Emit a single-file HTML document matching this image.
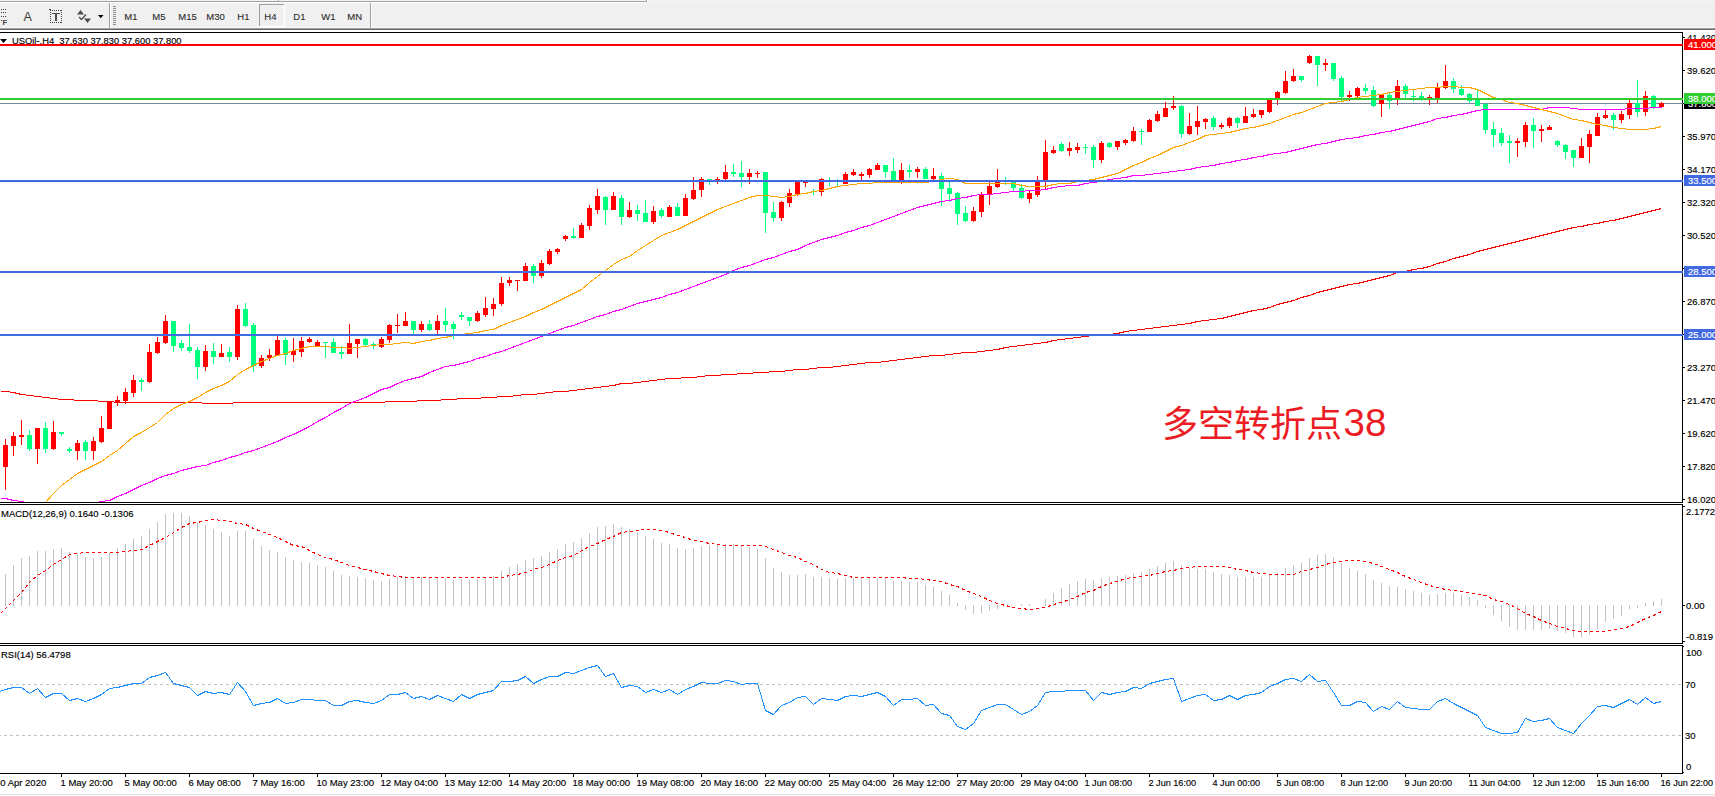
<!DOCTYPE html><html><head><meta charset="utf-8"><title>USOil-.H4</title>
<style>html,body{margin:0;padding:0;background:#fff;}body{width:1715px;height:796px;overflow:hidden;position:relative;}svg{display:block;position:absolute;left:0;top:0;}.t{font-family:"Liberation Sans",Arial,sans-serif;font-size:9.8px;fill:#000;stroke:#000;stroke-width:0.15px;}.tb{font-family:"Liberation Sans",Arial,sans-serif;font-size:9.5px;fill:#2a2a2a;stroke:#2a2a2a;stroke-width:0.1px;}.w{fill:#fff;stroke:#fff;}.cn{position:absolute;left:1162px;top:400px;font-family:"Liberation Sans","Noto Sans CJK SC",sans-serif;font-size:36px;line-height:50px;color:#ec1c24;white-space:nowrap;}.cn2{position:absolute;left:1343.6px;top:398px;font-family:"Liberation Sans","Noto Sans CJK SC",sans-serif;font-size:38.5px;line-height:50px;color:#ec1c24;white-space:nowrap;}</style></head><body>
<svg width="1715" height="796" viewBox="0 0 1715 796" shape-rendering="crispEdges">
<rect x="0" y="0" width="1715" height="28" fill="#f0f0f0"/>
<rect x="0" y="0" width="1715" height="1" fill="#f4f4f4"/>
<rect x="0" y="1" width="646" height="1" fill="#a0a0a0"/>
<rect x="0" y="2" width="646" height="1" fill="#ffffff"/>
<rect x="646" y="0" width="1" height="2" fill="#a0a0a0"/>
<rect x="647" y="0" width="1" height="3" fill="#ffffff"/>
<rect x="278" y="0" width="1" height="1" fill="#a0a0a0"/>
<rect x="279" y="0" width="1" height="1" fill="#ffffff"/>
<rect x="0" y="27" width="1715" height="1" fill="#f8f8f8"/>
<rect x="0" y="28" width="1715" height="1" fill="#a0a0a0"/>
<rect x="0" y="29" width="1715" height="1" fill="#696969"/>
<rect x="0" y="30" width="1715" height="2" fill="#ffffff"/>
<rect x="109" y="3" width="1" height="25" fill="#a0a0a0"/>
<rect x="110" y="3" width="1" height="25" fill="#ffffff"/>
<rect x="370" y="3" width="1" height="25" fill="#a0a0a0"/>
<rect x="371" y="3" width="1" height="25" fill="#ffffff"/>
<rect x="113" y="6" width="3" height="1" fill="#8c8c8c"/>
<rect x="113" y="8" width="3" height="1" fill="#8c8c8c"/>
<rect x="113" y="10" width="3" height="1" fill="#8c8c8c"/>
<rect x="113" y="12" width="3" height="1" fill="#8c8c8c"/>
<rect x="113" y="14" width="3" height="1" fill="#8c8c8c"/>
<rect x="113" y="16" width="3" height="1" fill="#8c8c8c"/>
<rect x="113" y="18" width="3" height="1" fill="#8c8c8c"/>
<rect x="113" y="20" width="3" height="1" fill="#8c8c8c"/>
<rect x="113" y="22" width="3" height="1" fill="#8c8c8c"/>
<rect x="113" y="24" width="3" height="1" fill="#8c8c8c"/>
<rect x="1" y="9" width="1" height="1" fill="#404040"/>
<rect x="3" y="9" width="1" height="1" fill="#404040"/>
<rect x="5" y="9" width="1" height="1" fill="#404040"/>
<rect x="1" y="12" width="1" height="1" fill="#404040"/>
<rect x="3" y="12" width="1" height="1" fill="#404040"/>
<rect x="5" y="12" width="1" height="1" fill="#404040"/>
<rect x="1" y="16" width="1" height="1" fill="#404040"/>
<rect x="3" y="16" width="1" height="1" fill="#404040"/>
<rect x="5" y="16" width="1" height="1" fill="#404040"/>
<rect x="1" y="20" width="1" height="1" fill="#404040"/>
<text x="2.5" y="25" font-family="Liberation Sans, Arial, sans-serif" font-size="7.5px" font-weight="bold" fill="#404040">F</text>
<text x="23.5" y="21" font-family="Liberation Sans, Arial, sans-serif" font-size="12.5px" fill="#404040">A</text>
<rect x="50" y="10" width="1" height="1" fill="#404040"/>
<rect x="50" y="22" width="1" height="1" fill="#404040"/>
<rect x="52" y="10" width="1" height="1" fill="#404040"/>
<rect x="52" y="22" width="1" height="1" fill="#404040"/>
<rect x="54" y="10" width="1" height="1" fill="#404040"/>
<rect x="54" y="22" width="1" height="1" fill="#404040"/>
<rect x="56" y="10" width="1" height="1" fill="#404040"/>
<rect x="56" y="22" width="1" height="1" fill="#404040"/>
<rect x="58" y="10" width="1" height="1" fill="#404040"/>
<rect x="58" y="22" width="1" height="1" fill="#404040"/>
<rect x="60" y="10" width="1" height="1" fill="#404040"/>
<rect x="60" y="22" width="1" height="1" fill="#404040"/>
<rect x="50" y="12" width="1" height="1" fill="#404040"/>
<rect x="61" y="12" width="1" height="1" fill="#404040"/>
<rect x="50" y="14" width="1" height="1" fill="#404040"/>
<rect x="61" y="14" width="1" height="1" fill="#404040"/>
<rect x="50" y="16" width="1" height="1" fill="#404040"/>
<rect x="61" y="16" width="1" height="1" fill="#404040"/>
<rect x="50" y="18" width="1" height="1" fill="#404040"/>
<rect x="61" y="18" width="1" height="1" fill="#404040"/>
<rect x="50" y="20" width="1" height="1" fill="#404040"/>
<rect x="61" y="20" width="1" height="1" fill="#404040"/>
<rect x="61" y="10" width="1" height="1" fill="#404040"/>
<rect x="61" y="22" width="1" height="1" fill="#404040"/>
<rect x="49" y="9" width="2" height="1" fill="#404040"/>
<rect x="52" y="13" width="8" height="1" fill="#505050"/>
<rect x="55" y="14" width="2" height="7" fill="#505050"/>
<g shape-rendering="auto">
<polygon points="77,14.5 80.5,10 84,14.5" fill="#4a4a4a"/>
<polygon points="84,18.5 91,18.5 87.5,23" fill="#4a4a4a"/>
<polyline points="79,17 81.5,19.5 86,14.5" fill="none" stroke="#4a4a4a" stroke-width="1.3"/>
<polygon points="98,15 103.5,15 100.75,18.2" fill="#000"/>
</g>
<rect x="259" y="4" width="25" height="22" fill="#f4f4f4"/>
<pattern id="dith" width="2" height="2" patternUnits="userSpaceOnUse"><rect width="2" height="2" fill="#f6f6f6"/><rect width="1" height="1" fill="#e8e8e8"/><rect x="1" y="1" width="1" height="1" fill="#e8e8e8"/></pattern>
<rect x="260" y="5" width="23" height="20" fill="url(#dith)"/>
<rect x="259" y="4" width="25" height="1" fill="#a0a0a0"/>
<rect x="259" y="4" width="1" height="22" fill="#a0a0a0"/>
<rect x="259" y="26" width="25" height="1" fill="#ffffff"/>
<rect x="284" y="4" width="1" height="23" fill="#ffffff"/>
<text class="tb" transform="translate(124.3 20) scale(1 1)">M1</text>
<text class="tb" transform="translate(152.3 20) scale(1 1)">M5</text>
<text class="tb" transform="translate(178.3 20) scale(1 1)">M15</text>
<text class="tb" transform="translate(206.3 20) scale(1 1)">M30</text>
<text class="tb" transform="translate(237.3 20) scale(1 1)">H1</text>
<text class="tb" transform="translate(264.3 20) scale(1 1)">H4</text>
<text class="tb" transform="translate(293.3 20) scale(1 1)">D1</text>
<text class="tb" transform="translate(321.3 20) scale(1 1)">W1</text>
<text class="tb" transform="translate(347.3 20) scale(1 1)">MN</text>
<rect x="0" y="32" width="1715" height="764" fill="#ffffff"/>
<svg x="0" y="33" width="1682" height="469" viewBox="0 33 1682 469" overflow="hidden">
<rect x="0" y="103" width="1682" height="1" fill="#778899"/>
<rect x="5" y="439" width="1" height="51" fill="#ff0000"/>
<rect x="3" y="445" width="5" height="22" fill="#ff0000"/>
<rect x="13" y="432" width="1" height="24" fill="#ff0000"/>
<rect x="11" y="436" width="5" height="10" fill="#ff0000"/>
<rect x="21" y="420" width="1" height="25" fill="#ff0000"/>
<rect x="19" y="435" width="5" height="2" fill="#ff0000"/>
<rect x="29" y="430" width="1" height="21" fill="#00ff7f"/>
<rect x="27" y="435" width="5" height="14" fill="#00ff7f"/>
<rect x="37" y="428" width="1" height="36" fill="#ff0000"/>
<rect x="35" y="428" width="5" height="21" fill="#ff0000"/>
<rect x="45" y="422" width="1" height="31" fill="#00ff7f"/>
<rect x="43" y="428" width="5" height="21" fill="#00ff7f"/>
<rect x="53" y="421" width="1" height="29" fill="#ff0000"/>
<rect x="51" y="432" width="5" height="17" fill="#ff0000"/>
<rect x="61" y="432" width="1" height="4" fill="#00ff7f"/>
<rect x="59" y="432" width="5" height="2" fill="#00ff7f"/>
<rect x="69" y="447" width="1" height="6" fill="#00ff7f"/>
<rect x="67" y="449" width="5" height="2" fill="#00ff7f"/>
<rect x="77" y="440" width="1" height="20" fill="#ff0000"/>
<rect x="75" y="443" width="5" height="8" fill="#ff0000"/>
<rect x="85" y="440" width="1" height="20" fill="#00ff7f"/>
<rect x="83" y="442" width="5" height="9" fill="#00ff7f"/>
<rect x="93" y="437" width="1" height="23" fill="#ff0000"/>
<rect x="91" y="441" width="5" height="10" fill="#ff0000"/>
<rect x="101" y="416" width="1" height="27" fill="#ff0000"/>
<rect x="99" y="428" width="5" height="14" fill="#ff0000"/>
<rect x="109" y="402" width="1" height="27" fill="#ff0000"/>
<rect x="107" y="402" width="5" height="27" fill="#ff0000"/>
<rect x="117" y="396" width="1" height="10" fill="#ff0000"/>
<rect x="115" y="400" width="5" height="2" fill="#ff0000"/>
<rect x="125" y="388" width="1" height="16" fill="#ff0000"/>
<rect x="123" y="392" width="5" height="9" fill="#ff0000"/>
<rect x="133" y="375" width="1" height="22" fill="#ff0000"/>
<rect x="131" y="380" width="5" height="13" fill="#ff0000"/>
<rect x="141" y="378" width="1" height="13" fill="#00ff7f"/>
<rect x="139" y="380" width="5" height="2" fill="#00ff7f"/>
<rect x="149" y="344" width="1" height="39" fill="#ff0000"/>
<rect x="147" y="352" width="5" height="30" fill="#ff0000"/>
<rect x="157" y="337" width="1" height="17" fill="#ff0000"/>
<rect x="155" y="342" width="5" height="11" fill="#ff0000"/>
<rect x="165" y="315" width="1" height="29" fill="#ff0000"/>
<rect x="163" y="321" width="5" height="22" fill="#ff0000"/>
<rect x="173" y="321" width="1" height="31" fill="#00ff7f"/>
<rect x="171" y="321" width="5" height="25" fill="#00ff7f"/>
<rect x="181" y="340" width="1" height="11" fill="#00ff7f"/>
<rect x="179" y="343" width="5" height="5" fill="#00ff7f"/>
<rect x="189" y="324" width="1" height="29" fill="#00ff7f"/>
<rect x="187" y="347" width="5" height="4" fill="#00ff7f"/>
<rect x="197" y="347" width="1" height="32" fill="#00ff7f"/>
<rect x="195" y="350" width="5" height="17" fill="#00ff7f"/>
<rect x="205" y="345" width="1" height="26" fill="#ff0000"/>
<rect x="203" y="351" width="5" height="16" fill="#ff0000"/>
<rect x="213" y="343" width="1" height="21" fill="#00ff7f"/>
<rect x="211" y="351" width="5" height="6" fill="#00ff7f"/>
<rect x="221" y="344" width="1" height="13" fill="#ff0000"/>
<rect x="219" y="353" width="5" height="4" fill="#ff0000"/>
<rect x="229" y="347" width="1" height="15" fill="#00ff7f"/>
<rect x="227" y="352" width="5" height="5" fill="#00ff7f"/>
<rect x="237" y="305" width="1" height="55" fill="#ff0000"/>
<rect x="235" y="309" width="5" height="48" fill="#ff0000"/>
<rect x="245" y="303" width="1" height="24" fill="#00ff7f"/>
<rect x="243" y="309" width="5" height="17" fill="#00ff7f"/>
<rect x="253" y="323" width="1" height="49" fill="#00ff7f"/>
<rect x="251" y="325" width="5" height="41" fill="#00ff7f"/>
<rect x="261" y="355" width="1" height="13" fill="#ff0000"/>
<rect x="259" y="358" width="5" height="8" fill="#ff0000"/>
<rect x="269" y="349" width="1" height="12" fill="#ff0000"/>
<rect x="267" y="355" width="5" height="3" fill="#ff0000"/>
<rect x="277" y="336" width="1" height="20" fill="#ff0000"/>
<rect x="275" y="340" width="5" height="16" fill="#ff0000"/>
<rect x="285" y="338" width="1" height="27" fill="#00ff7f"/>
<rect x="283" y="340" width="5" height="15" fill="#00ff7f"/>
<rect x="293" y="338" width="1" height="24" fill="#ff0000"/>
<rect x="291" y="351" width="5" height="4" fill="#ff0000"/>
<rect x="301" y="337" width="1" height="20" fill="#ff0000"/>
<rect x="299" y="341" width="5" height="11" fill="#ff0000"/>
<rect x="309" y="337" width="1" height="6" fill="#ff0000"/>
<rect x="307" y="339" width="5" height="3" fill="#ff0000"/>
<rect x="317" y="340" width="1" height="6" fill="#ff0000"/>
<rect x="315" y="342" width="5" height="4" fill="#ff0000"/>
<rect x="325" y="342" width="1" height="16" fill="#00ff7f"/>
<rect x="323" y="342" width="5" height="1" fill="#00ff7f"/>
<rect x="333" y="338" width="1" height="15" fill="#00ff7f"/>
<rect x="331" y="342" width="5" height="11" fill="#00ff7f"/>
<rect x="341" y="346" width="1" height="13" fill="#00ff7f"/>
<rect x="339" y="352" width="5" height="2" fill="#00ff7f"/>
<rect x="349" y="324" width="1" height="30" fill="#ff0000"/>
<rect x="347" y="343" width="5" height="11" fill="#ff0000"/>
<rect x="357" y="339" width="1" height="19" fill="#ff0000"/>
<rect x="355" y="339" width="5" height="5" fill="#ff0000"/>
<rect x="365" y="338" width="1" height="8" fill="#00ff7f"/>
<rect x="363" y="339" width="5" height="6" fill="#00ff7f"/>
<rect x="373" y="342" width="1" height="7" fill="#00ff7f"/>
<rect x="371" y="344" width="5" height="2" fill="#00ff7f"/>
<rect x="381" y="337" width="1" height="11" fill="#ff0000"/>
<rect x="379" y="339" width="5" height="8" fill="#ff0000"/>
<rect x="389" y="324" width="1" height="19" fill="#ff0000"/>
<rect x="387" y="325" width="5" height="15" fill="#ff0000"/>
<rect x="397" y="314" width="1" height="19" fill="#ff0000"/>
<rect x="395" y="325" width="5" height="1" fill="#ff0000"/>
<rect x="405" y="312" width="1" height="14" fill="#ff0000"/>
<rect x="403" y="321" width="5" height="5" fill="#ff0000"/>
<rect x="413" y="321" width="1" height="13" fill="#00ff7f"/>
<rect x="411" y="321" width="5" height="9" fill="#00ff7f"/>
<rect x="421" y="321" width="1" height="11" fill="#ff0000"/>
<rect x="419" y="324" width="5" height="6" fill="#ff0000"/>
<rect x="429" y="320" width="1" height="11" fill="#00ff7f"/>
<rect x="427" y="324" width="5" height="6" fill="#00ff7f"/>
<rect x="437" y="315" width="1" height="19" fill="#ff0000"/>
<rect x="435" y="321" width="5" height="9" fill="#ff0000"/>
<rect x="445" y="308" width="1" height="24" fill="#00ff7f"/>
<rect x="443" y="321" width="5" height="4" fill="#00ff7f"/>
<rect x="453" y="322" width="1" height="17" fill="#00ff7f"/>
<rect x="451" y="324" width="5" height="5" fill="#00ff7f"/>
<rect x="461" y="312" width="1" height="8" fill="#00ff7f"/>
<rect x="459" y="315" width="5" height="2" fill="#00ff7f"/>
<rect x="469" y="317" width="1" height="9" fill="#00ff7f"/>
<rect x="467" y="317" width="5" height="4" fill="#00ff7f"/>
<rect x="477" y="311" width="1" height="11" fill="#ff0000"/>
<rect x="475" y="313" width="5" height="8" fill="#ff0000"/>
<rect x="485" y="297" width="1" height="20" fill="#ff0000"/>
<rect x="483" y="308" width="5" height="7" fill="#ff0000"/>
<rect x="493" y="298" width="1" height="18" fill="#ff0000"/>
<rect x="491" y="304" width="5" height="5" fill="#ff0000"/>
<rect x="501" y="277" width="1" height="29" fill="#ff0000"/>
<rect x="499" y="283" width="5" height="21" fill="#ff0000"/>
<rect x="509" y="277" width="1" height="9" fill="#ff0000"/>
<rect x="507" y="280" width="5" height="3" fill="#ff0000"/>
<rect x="517" y="280" width="1" height="11" fill="#ff0000"/>
<rect x="515" y="280" width="5" height="1" fill="#ff0000"/>
<rect x="525" y="263" width="1" height="18" fill="#ff0000"/>
<rect x="523" y="266" width="5" height="15" fill="#ff0000"/>
<rect x="533" y="264" width="1" height="19" fill="#00ff7f"/>
<rect x="531" y="266" width="5" height="10" fill="#00ff7f"/>
<rect x="541" y="260" width="1" height="18" fill="#ff0000"/>
<rect x="539" y="263" width="5" height="13" fill="#ff0000"/>
<rect x="549" y="249" width="1" height="16" fill="#ff0000"/>
<rect x="547" y="251" width="5" height="13" fill="#ff0000"/>
<rect x="557" y="248" width="1" height="6" fill="#ff0000"/>
<rect x="555" y="249" width="5" height="3" fill="#ff0000"/>
<rect x="565" y="235" width="1" height="6" fill="#ff0000"/>
<rect x="563" y="236" width="5" height="3" fill="#ff0000"/>
<rect x="573" y="228" width="1" height="11" fill="#00ff7f"/>
<rect x="571" y="236" width="5" height="2" fill="#00ff7f"/>
<rect x="581" y="223" width="1" height="15" fill="#ff0000"/>
<rect x="579" y="225" width="5" height="13" fill="#ff0000"/>
<rect x="589" y="205" width="1" height="25" fill="#ff0000"/>
<rect x="587" y="208" width="5" height="18" fill="#ff0000"/>
<rect x="597" y="189" width="1" height="25" fill="#ff0000"/>
<rect x="595" y="196" width="5" height="14" fill="#ff0000"/>
<rect x="605" y="196" width="1" height="29" fill="#00ff7f"/>
<rect x="603" y="197" width="5" height="13" fill="#00ff7f"/>
<rect x="613" y="192" width="1" height="18" fill="#ff0000"/>
<rect x="611" y="196" width="5" height="14" fill="#ff0000"/>
<rect x="621" y="195" width="1" height="30" fill="#00ff7f"/>
<rect x="619" y="198" width="5" height="19" fill="#00ff7f"/>
<rect x="629" y="202" width="1" height="16" fill="#ff0000"/>
<rect x="627" y="210" width="5" height="7" fill="#ff0000"/>
<rect x="637" y="205" width="1" height="16" fill="#00ff7f"/>
<rect x="635" y="210" width="5" height="4" fill="#00ff7f"/>
<rect x="645" y="200" width="1" height="22" fill="#00ff7f"/>
<rect x="643" y="213" width="5" height="9" fill="#00ff7f"/>
<rect x="653" y="206" width="1" height="18" fill="#ff0000"/>
<rect x="651" y="211" width="5" height="11" fill="#ff0000"/>
<rect x="661" y="208" width="1" height="10" fill="#00ff7f"/>
<rect x="659" y="210" width="5" height="6" fill="#00ff7f"/>
<rect x="669" y="205" width="1" height="12" fill="#ff0000"/>
<rect x="667" y="207" width="5" height="10" fill="#ff0000"/>
<rect x="677" y="203" width="1" height="13" fill="#00ff7f"/>
<rect x="675" y="207" width="5" height="9" fill="#00ff7f"/>
<rect x="685" y="194" width="1" height="22" fill="#ff0000"/>
<rect x="683" y="198" width="5" height="18" fill="#ff0000"/>
<rect x="693" y="177" width="1" height="23" fill="#ff0000"/>
<rect x="691" y="190" width="5" height="9" fill="#ff0000"/>
<rect x="701" y="177" width="1" height="20" fill="#ff0000"/>
<rect x="699" y="179" width="5" height="11" fill="#ff0000"/>
<rect x="709" y="179" width="1" height="6" fill="#00ff7f"/>
<rect x="707" y="179" width="5" height="2" fill="#00ff7f"/>
<rect x="717" y="177" width="1" height="7" fill="#ff0000"/>
<rect x="715" y="179" width="5" height="1" fill="#ff0000"/>
<rect x="725" y="165" width="1" height="15" fill="#ff0000"/>
<rect x="723" y="172" width="5" height="7" fill="#ff0000"/>
<rect x="733" y="164" width="1" height="13" fill="#00ff7f"/>
<rect x="731" y="172" width="5" height="2" fill="#00ff7f"/>
<rect x="741" y="161" width="1" height="26" fill="#00ff7f"/>
<rect x="739" y="173" width="5" height="4" fill="#00ff7f"/>
<rect x="749" y="169" width="1" height="15" fill="#ff0000"/>
<rect x="747" y="173" width="5" height="4" fill="#ff0000"/>
<rect x="757" y="171" width="1" height="7" fill="#ff0000"/>
<rect x="755" y="173" width="5" height="1" fill="#ff0000"/>
<rect x="765" y="172" width="1" height="61" fill="#00ff7f"/>
<rect x="763" y="172" width="5" height="41" fill="#00ff7f"/>
<rect x="773" y="202" width="1" height="20" fill="#00ff7f"/>
<rect x="771" y="212" width="5" height="6" fill="#00ff7f"/>
<rect x="781" y="201" width="1" height="20" fill="#ff0000"/>
<rect x="779" y="202" width="5" height="16" fill="#ff0000"/>
<rect x="789" y="189" width="1" height="18" fill="#ff0000"/>
<rect x="787" y="193" width="5" height="10" fill="#ff0000"/>
<rect x="797" y="181" width="1" height="15" fill="#ff0000"/>
<rect x="795" y="181" width="5" height="13" fill="#ff0000"/>
<rect x="805" y="181" width="1" height="6" fill="#ff0000"/>
<rect x="803" y="182" width="5" height="1" fill="#ff0000"/>
<rect x="813" y="189" width="1" height="6" fill="#00ff7f"/>
<rect x="811" y="191" width="5" height="1" fill="#00ff7f"/>
<rect x="821" y="178" width="1" height="18" fill="#ff0000"/>
<rect x="819" y="179" width="5" height="13" fill="#ff0000"/>
<rect x="829" y="177" width="1" height="9" fill="#00ff7f"/>
<rect x="827" y="180" width="5" height="1" fill="#00ff7f"/>
<rect x="837" y="179" width="1" height="7" fill="#00ff7f"/>
<rect x="835" y="181" width="5" height="1" fill="#00ff7f"/>
<rect x="845" y="172" width="1" height="12" fill="#ff0000"/>
<rect x="843" y="174" width="5" height="10" fill="#ff0000"/>
<rect x="853" y="169" width="1" height="7" fill="#ff0000"/>
<rect x="851" y="172" width="5" height="3" fill="#ff0000"/>
<rect x="861" y="172" width="1" height="8" fill="#ff0000"/>
<rect x="859" y="174" width="5" height="2" fill="#ff0000"/>
<rect x="869" y="168" width="1" height="10" fill="#ff0000"/>
<rect x="867" y="169" width="5" height="6" fill="#ff0000"/>
<rect x="877" y="163" width="1" height="7" fill="#ff0000"/>
<rect x="875" y="165" width="5" height="5" fill="#ff0000"/>
<rect x="885" y="165" width="1" height="13" fill="#00ff7f"/>
<rect x="883" y="165" width="5" height="7" fill="#00ff7f"/>
<rect x="893" y="158" width="1" height="22" fill="#00ff7f"/>
<rect x="891" y="171" width="5" height="9" fill="#00ff7f"/>
<rect x="901" y="163" width="1" height="21" fill="#ff0000"/>
<rect x="899" y="170" width="5" height="11" fill="#ff0000"/>
<rect x="909" y="165" width="1" height="13" fill="#00ff7f"/>
<rect x="907" y="170" width="5" height="2" fill="#00ff7f"/>
<rect x="917" y="167" width="1" height="11" fill="#ff0000"/>
<rect x="915" y="169" width="5" height="3" fill="#ff0000"/>
<rect x="925" y="167" width="1" height="12" fill="#00ff7f"/>
<rect x="923" y="169" width="5" height="10" fill="#00ff7f"/>
<rect x="933" y="168" width="1" height="12" fill="#ff0000"/>
<rect x="931" y="176" width="5" height="3" fill="#ff0000"/>
<rect x="941" y="173" width="1" height="33" fill="#00ff7f"/>
<rect x="939" y="176" width="5" height="13" fill="#00ff7f"/>
<rect x="949" y="181" width="1" height="21" fill="#00ff7f"/>
<rect x="947" y="188" width="5" height="6" fill="#00ff7f"/>
<rect x="957" y="192" width="1" height="33" fill="#00ff7f"/>
<rect x="955" y="193" width="5" height="21" fill="#00ff7f"/>
<rect x="965" y="206" width="1" height="16" fill="#00ff7f"/>
<rect x="963" y="213" width="5" height="8" fill="#00ff7f"/>
<rect x="973" y="207" width="1" height="15" fill="#ff0000"/>
<rect x="971" y="211" width="5" height="10" fill="#ff0000"/>
<rect x="981" y="192" width="1" height="25" fill="#ff0000"/>
<rect x="979" y="194" width="5" height="18" fill="#ff0000"/>
<rect x="989" y="182" width="1" height="23" fill="#ff0000"/>
<rect x="987" y="186" width="5" height="8" fill="#ff0000"/>
<rect x="997" y="169" width="1" height="19" fill="#ff0000"/>
<rect x="995" y="182" width="5" height="5" fill="#ff0000"/>
<rect x="1005" y="177" width="1" height="8" fill="#00ff7f"/>
<rect x="1003" y="181" width="5" height="1" fill="#00ff7f"/>
<rect x="1013" y="181" width="1" height="10" fill="#00ff7f"/>
<rect x="1011" y="181" width="5" height="7" fill="#00ff7f"/>
<rect x="1021" y="184" width="1" height="15" fill="#00ff7f"/>
<rect x="1019" y="188" width="5" height="10" fill="#00ff7f"/>
<rect x="1029" y="191" width="1" height="12" fill="#ff0000"/>
<rect x="1027" y="193" width="5" height="6" fill="#ff0000"/>
<rect x="1037" y="176" width="1" height="21" fill="#ff0000"/>
<rect x="1035" y="182" width="5" height="13" fill="#ff0000"/>
<rect x="1045" y="140" width="1" height="49" fill="#ff0000"/>
<rect x="1043" y="152" width="5" height="30" fill="#ff0000"/>
<rect x="1053" y="146" width="1" height="8" fill="#ff0000"/>
<rect x="1051" y="150" width="5" height="3" fill="#ff0000"/>
<rect x="1061" y="142" width="1" height="10" fill="#00ff7f"/>
<rect x="1059" y="144" width="5" height="7" fill="#00ff7f"/>
<rect x="1069" y="142" width="1" height="14" fill="#ff0000"/>
<rect x="1067" y="148" width="5" height="3" fill="#ff0000"/>
<rect x="1077" y="143" width="1" height="10" fill="#ff0000"/>
<rect x="1075" y="147" width="5" height="3" fill="#ff0000"/>
<rect x="1085" y="144" width="1" height="10" fill="#00ff7f"/>
<rect x="1083" y="147" width="5" height="1" fill="#00ff7f"/>
<rect x="1093" y="145" width="1" height="23" fill="#00ff7f"/>
<rect x="1091" y="147" width="5" height="13" fill="#00ff7f"/>
<rect x="1101" y="141" width="1" height="22" fill="#ff0000"/>
<rect x="1099" y="143" width="5" height="17" fill="#ff0000"/>
<rect x="1109" y="142" width="1" height="6" fill="#00ff7f"/>
<rect x="1107" y="143" width="5" height="4" fill="#00ff7f"/>
<rect x="1117" y="141" width="1" height="9" fill="#ff0000"/>
<rect x="1115" y="141" width="5" height="6" fill="#ff0000"/>
<rect x="1125" y="139" width="1" height="6" fill="#ff0000"/>
<rect x="1123" y="140" width="5" height="3" fill="#ff0000"/>
<rect x="1133" y="127" width="1" height="15" fill="#ff0000"/>
<rect x="1131" y="131" width="5" height="10" fill="#ff0000"/>
<rect x="1141" y="129" width="1" height="16" fill="#00ff7f"/>
<rect x="1139" y="131" width="5" height="1" fill="#00ff7f"/>
<rect x="1149" y="119" width="1" height="13" fill="#ff0000"/>
<rect x="1147" y="120" width="5" height="12" fill="#ff0000"/>
<rect x="1157" y="111" width="1" height="11" fill="#ff0000"/>
<rect x="1155" y="114" width="5" height="7" fill="#ff0000"/>
<rect x="1165" y="102" width="1" height="15" fill="#ff0000"/>
<rect x="1163" y="108" width="5" height="9" fill="#ff0000"/>
<rect x="1173" y="96" width="1" height="14" fill="#ff0000"/>
<rect x="1171" y="106" width="5" height="2" fill="#ff0000"/>
<rect x="1181" y="105" width="1" height="33" fill="#00ff7f"/>
<rect x="1179" y="106" width="5" height="28" fill="#00ff7f"/>
<rect x="1189" y="113" width="1" height="22" fill="#ff0000"/>
<rect x="1187" y="126" width="5" height="8" fill="#ff0000"/>
<rect x="1197" y="106" width="1" height="29" fill="#ff0000"/>
<rect x="1195" y="121" width="5" height="6" fill="#ff0000"/>
<rect x="1205" y="118" width="1" height="11" fill="#ff0000"/>
<rect x="1203" y="119" width="5" height="3" fill="#ff0000"/>
<rect x="1213" y="116" width="1" height="14" fill="#00ff7f"/>
<rect x="1211" y="118" width="5" height="9" fill="#00ff7f"/>
<rect x="1221" y="123" width="1" height="6" fill="#ff0000"/>
<rect x="1219" y="125" width="5" height="2" fill="#ff0000"/>
<rect x="1229" y="117" width="1" height="11" fill="#ff0000"/>
<rect x="1227" y="118" width="5" height="8" fill="#ff0000"/>
<rect x="1237" y="117" width="1" height="11" fill="#00ff7f"/>
<rect x="1235" y="118" width="5" height="5" fill="#00ff7f"/>
<rect x="1245" y="107" width="1" height="16" fill="#ff0000"/>
<rect x="1243" y="116" width="5" height="7" fill="#ff0000"/>
<rect x="1253" y="109" width="1" height="9" fill="#ff0000"/>
<rect x="1251" y="114" width="5" height="3" fill="#ff0000"/>
<rect x="1261" y="110" width="1" height="8" fill="#ff0000"/>
<rect x="1259" y="110" width="5" height="5" fill="#ff0000"/>
<rect x="1269" y="100" width="1" height="13" fill="#ff0000"/>
<rect x="1267" y="100" width="5" height="12" fill="#ff0000"/>
<rect x="1277" y="91" width="1" height="14" fill="#ff0000"/>
<rect x="1275" y="92" width="5" height="8" fill="#ff0000"/>
<rect x="1285" y="71" width="1" height="23" fill="#ff0000"/>
<rect x="1283" y="81" width="5" height="12" fill="#ff0000"/>
<rect x="1293" y="69" width="1" height="13" fill="#ff0000"/>
<rect x="1291" y="76" width="5" height="5" fill="#ff0000"/>
<rect x="1301" y="76" width="1" height="6" fill="#00ff7f"/>
<rect x="1299" y="76" width="5" height="4" fill="#00ff7f"/>
<rect x="1309" y="55" width="1" height="9" fill="#ff0000"/>
<rect x="1307" y="56" width="5" height="7" fill="#ff0000"/>
<rect x="1317" y="56" width="1" height="30" fill="#00ff7f"/>
<rect x="1315" y="56" width="5" height="9" fill="#00ff7f"/>
<rect x="1325" y="59" width="1" height="12" fill="#ff0000"/>
<rect x="1323" y="63" width="5" height="2" fill="#ff0000"/>
<rect x="1333" y="63" width="1" height="18" fill="#00ff7f"/>
<rect x="1331" y="63" width="5" height="16" fill="#00ff7f"/>
<rect x="1341" y="76" width="1" height="25" fill="#00ff7f"/>
<rect x="1339" y="78" width="5" height="19" fill="#00ff7f"/>
<rect x="1349" y="91" width="1" height="10" fill="#ff0000"/>
<rect x="1347" y="95" width="5" height="2" fill="#ff0000"/>
<rect x="1357" y="87" width="1" height="10" fill="#ff0000"/>
<rect x="1355" y="88" width="5" height="8" fill="#ff0000"/>
<rect x="1365" y="84" width="1" height="10" fill="#00ff7f"/>
<rect x="1363" y="88" width="5" height="3" fill="#00ff7f"/>
<rect x="1373" y="86" width="1" height="21" fill="#00ff7f"/>
<rect x="1371" y="90" width="5" height="16" fill="#00ff7f"/>
<rect x="1381" y="94" width="1" height="23" fill="#ff0000"/>
<rect x="1379" y="95" width="5" height="9" fill="#ff0000"/>
<rect x="1389" y="93" width="1" height="16" fill="#00ff7f"/>
<rect x="1387" y="95" width="5" height="6" fill="#00ff7f"/>
<rect x="1397" y="80" width="1" height="25" fill="#ff0000"/>
<rect x="1395" y="86" width="5" height="12" fill="#ff0000"/>
<rect x="1405" y="84" width="1" height="14" fill="#00ff7f"/>
<rect x="1403" y="86" width="5" height="8" fill="#00ff7f"/>
<rect x="1413" y="90" width="1" height="11" fill="#00ff7f"/>
<rect x="1411" y="96" width="5" height="1" fill="#00ff7f"/>
<rect x="1421" y="92" width="1" height="9" fill="#00ff7f"/>
<rect x="1419" y="96" width="5" height="2" fill="#00ff7f"/>
<rect x="1429" y="95" width="1" height="10" fill="#ff0000"/>
<rect x="1427" y="97" width="5" height="2" fill="#ff0000"/>
<rect x="1437" y="83" width="1" height="20" fill="#ff0000"/>
<rect x="1435" y="88" width="5" height="10" fill="#ff0000"/>
<rect x="1445" y="65" width="1" height="24" fill="#ff0000"/>
<rect x="1443" y="81" width="5" height="7" fill="#ff0000"/>
<rect x="1453" y="78" width="1" height="15" fill="#00ff7f"/>
<rect x="1451" y="81" width="5" height="8" fill="#00ff7f"/>
<rect x="1461" y="85" width="1" height="11" fill="#00ff7f"/>
<rect x="1459" y="89" width="5" height="6" fill="#00ff7f"/>
<rect x="1469" y="93" width="1" height="10" fill="#00ff7f"/>
<rect x="1467" y="94" width="5" height="7" fill="#00ff7f"/>
<rect x="1477" y="89" width="1" height="17" fill="#00ff7f"/>
<rect x="1475" y="100" width="5" height="6" fill="#00ff7f"/>
<rect x="1485" y="103" width="1" height="31" fill="#00ff7f"/>
<rect x="1483" y="104" width="5" height="26" fill="#00ff7f"/>
<rect x="1493" y="122" width="1" height="25" fill="#00ff7f"/>
<rect x="1491" y="129" width="5" height="6" fill="#00ff7f"/>
<rect x="1501" y="128" width="1" height="18" fill="#00ff7f"/>
<rect x="1499" y="133" width="5" height="10" fill="#00ff7f"/>
<rect x="1509" y="135" width="1" height="28" fill="#00ff7f"/>
<rect x="1507" y="141" width="5" height="2" fill="#00ff7f"/>
<rect x="1517" y="138" width="1" height="19" fill="#ff0000"/>
<rect x="1515" y="141" width="5" height="2" fill="#ff0000"/>
<rect x="1525" y="122" width="1" height="25" fill="#ff0000"/>
<rect x="1523" y="125" width="5" height="17" fill="#ff0000"/>
<rect x="1533" y="118" width="1" height="30" fill="#00ff7f"/>
<rect x="1531" y="125" width="5" height="6" fill="#00ff7f"/>
<rect x="1541" y="125" width="1" height="17" fill="#ff0000"/>
<rect x="1539" y="129" width="5" height="2" fill="#ff0000"/>
<rect x="1549" y="125" width="1" height="5" fill="#ff0000"/>
<rect x="1547" y="127" width="5" height="3" fill="#ff0000"/>
<rect x="1557" y="140" width="1" height="7" fill="#00ff7f"/>
<rect x="1555" y="141" width="5" height="4" fill="#00ff7f"/>
<rect x="1565" y="144" width="1" height="15" fill="#00ff7f"/>
<rect x="1563" y="145" width="5" height="7" fill="#00ff7f"/>
<rect x="1573" y="150" width="1" height="17" fill="#00ff7f"/>
<rect x="1571" y="150" width="5" height="8" fill="#00ff7f"/>
<rect x="1581" y="138" width="1" height="20" fill="#ff0000"/>
<rect x="1579" y="146" width="5" height="12" fill="#ff0000"/>
<rect x="1589" y="130" width="1" height="33" fill="#ff0000"/>
<rect x="1587" y="134" width="5" height="13" fill="#ff0000"/>
<rect x="1597" y="113" width="1" height="23" fill="#ff0000"/>
<rect x="1595" y="117" width="5" height="19" fill="#ff0000"/>
<rect x="1605" y="110" width="1" height="9" fill="#ff0000"/>
<rect x="1603" y="115" width="5" height="3" fill="#ff0000"/>
<rect x="1613" y="113" width="1" height="17" fill="#00ff7f"/>
<rect x="1611" y="115" width="5" height="5" fill="#00ff7f"/>
<rect x="1621" y="111" width="1" height="12" fill="#ff0000"/>
<rect x="1619" y="114" width="5" height="6" fill="#ff0000"/>
<rect x="1629" y="100" width="1" height="19" fill="#ff0000"/>
<rect x="1627" y="103" width="5" height="12" fill="#ff0000"/>
<rect x="1637" y="80" width="1" height="37" fill="#00ff7f"/>
<rect x="1635" y="103" width="5" height="9" fill="#00ff7f"/>
<rect x="1645" y="91" width="1" height="25" fill="#ff0000"/>
<rect x="1643" y="96" width="5" height="16" fill="#ff0000"/>
<rect x="1653" y="95" width="1" height="14" fill="#00ff7f"/>
<rect x="1651" y="96" width="5" height="11" fill="#00ff7f"/>
<rect x="1661" y="102" width="1" height="5" fill="#ff0000"/>
<rect x="1659" y="103" width="5" height="4" fill="#ff0000"/>
<polyline points="0.5,391.5 5.5,391.5 13.5,392.5 21.5,394.5 29.5,395.5 37.5,396.5 45.5,397.5 53.5,398.5 61.5,399.5 69.5,399.5 77.5,400.5 85.5,400.5 93.5,400.5 101.5,401.5 109.5,401.5 117.5,402.5 125.5,402.5 133.5,402.5 141.5,402.5 149.5,402.5 157.5,402.5 165.5,402.5 173.5,402.5 181.5,402.5 189.5,402.5 197.5,402.5 205.5,403.5 213.5,403.5 221.5,403.5 229.5,403.5 237.5,402.5 245.5,402.5 253.5,402.5 261.5,402.5 269.5,402.5 277.5,402.5 285.5,402.5 293.5,402.5 301.5,402.5 309.5,402.5 317.5,402.5 325.5,402.5 333.5,402.5 341.5,402.5 349.5,402.5 357.5,402.5 365.5,402.5 373.5,402.5 381.5,402.5 389.5,401.5 397.5,401.5 405.5,401.5 413.5,401.5 421.5,400.5 429.5,400.5 437.5,400.5 445.5,399.5 453.5,399.5 461.5,398.5 469.5,398.5 477.5,398.5 485.5,397.5 493.5,397.5 501.5,396.5 509.5,396.5 517.5,395.5 525.5,394.5 533.5,394.5 541.5,393.5 549.5,392.5 557.5,391.5 565.5,391.5 573.5,390.5 581.5,389.5 589.5,388.5 597.5,387.5 605.5,386.5 613.5,385.5 621.5,383.5 629.5,383.5 637.5,382.5 645.5,381.5 653.5,380.5 661.5,379.5 669.5,378.5 677.5,378.5 685.5,377.5 693.5,377.5 701.5,376.5 709.5,375.5 717.5,375.5 725.5,374.5 733.5,374.5 741.5,373.5 749.5,373.5 757.5,372.5 765.5,372.5 773.5,371.5 781.5,371.5 789.5,370.5 797.5,369.5 805.5,369.5 813.5,368.5 821.5,367.5 829.5,367.5 837.5,366.5 845.5,365.5 853.5,364.5 861.5,363.5 869.5,362.5 877.5,362.5 885.5,361.5 893.5,360.5 901.5,359.5 909.5,358.5 917.5,357.5 925.5,356.5 933.5,355.5 941.5,355.5 949.5,354.5 957.5,353.5 965.5,352.5 973.5,352.5 981.5,351.5 989.5,350.5 997.5,349.5 1005.5,347.5 1013.5,346.5 1021.5,345.5 1029.5,344.5 1037.5,343.5 1045.5,342.5 1053.5,340.5 1061.5,339.5 1069.5,338.5 1077.5,337.5 1085.5,336.5 1093.5,335.5 1101.5,335.5 1109.5,334.5 1117.5,333.5 1125.5,331.5 1133.5,330.5 1141.5,329.5 1149.5,328.5 1157.5,327.5 1165.5,326.5 1173.5,325.5 1181.5,324.5 1189.5,323.5 1197.5,321.5 1205.5,320.5 1213.5,319.5 1221.5,318.5 1229.5,316.5 1237.5,314.5 1245.5,312.5 1253.5,310.5 1261.5,309.5 1269.5,307.5 1277.5,304.5 1285.5,302.5 1293.5,300.5 1301.5,297.5 1309.5,295.5 1317.5,292.5 1325.5,290.5 1333.5,288.5 1341.5,286.5 1349.5,284.5 1357.5,283.5 1365.5,281.5 1373.5,279.5 1381.5,277.5 1389.5,275.5 1397.5,272.5 1405.5,271.5 1413.5,269.5 1421.5,268.5 1429.5,266.5 1437.5,263.5 1445.5,261.5 1453.5,258.5 1461.5,256.5 1469.5,254.5 1477.5,251.5 1485.5,249.5 1493.5,247.5 1501.5,245.5 1509.5,243.5 1517.5,241.5 1525.5,239.5 1533.5,237.5 1541.5,235.5 1549.5,233.5 1557.5,231.5 1565.5,229.5 1573.5,227.5 1581.5,226.5 1589.5,224.5 1597.5,223.5 1605.5,221.5 1613.5,220.5 1621.5,218.5 1629.5,216.5 1637.5,214.5 1645.5,212.5 1653.5,210.5 1661.5,208.5" fill="none" stroke="#ff0000" stroke-width="1" />
<polyline points="0.5,498.5 5.5,498.5 13.5,500.5 21.5,501.5 29.5,503.5 37.5,503.5 45.5,504.5 53.5,505.5 61.5,505.5 69.5,505.5 77.5,504.5 85.5,503.5 93.5,503.5 101.5,501.5 109.5,500.5 117.5,496.5 125.5,493.5 133.5,489.5 141.5,485.5 149.5,482.5 157.5,478.5 165.5,475.5 173.5,473.5 181.5,470.5 189.5,468.5 197.5,466.5 205.5,465.5 213.5,462.5 221.5,460.5 229.5,457.5 237.5,455.5 245.5,452.5 253.5,450.5 261.5,447.5 269.5,444.5 277.5,441.5 285.5,437.5 293.5,434.5 301.5,430.5 309.5,426.5 317.5,421.5 325.5,417.5 333.5,412.5 341.5,408.5 349.5,403.5 357.5,400.5 365.5,397.5 373.5,393.5 381.5,389.5 389.5,387.5 397.5,383.5 405.5,380.5 413.5,378.5 421.5,376.5 429.5,372.5 437.5,369.5 445.5,366.5 453.5,365.5 461.5,363.5 469.5,361.5 477.5,358.5 485.5,356.5 493.5,353.5 501.5,351.5 509.5,348.5 517.5,345.5 525.5,342.5 533.5,339.5 541.5,336.5 549.5,333.5 557.5,330.5 565.5,327.5 573.5,325.5 581.5,322.5 589.5,319.5 597.5,316.5 605.5,314.5 613.5,311.5 621.5,309.5 629.5,306.5 637.5,303.5 645.5,301.5 653.5,299.5 661.5,297.5 669.5,294.5 677.5,292.5 685.5,289.5 693.5,286.5 701.5,283.5 709.5,280.5 717.5,277.5 725.5,274.5 733.5,270.5 741.5,267.5 749.5,265.5 757.5,262.5 765.5,259.5 773.5,257.5 781.5,254.5 789.5,251.5 797.5,249.5 805.5,245.5 813.5,242.5 821.5,239.5 829.5,237.5 837.5,235.5 845.5,232.5 853.5,230.5 861.5,227.5 869.5,225.5 877.5,222.5 885.5,219.5 893.5,216.5 901.5,213.5 909.5,210.5 917.5,207.5 925.5,205.5 933.5,203.5 941.5,201.5 949.5,200.5 957.5,198.5 965.5,197.5 973.5,195.5 981.5,194.5 989.5,194.5 997.5,193.5 1005.5,192.5 1013.5,191.5 1021.5,191.5 1029.5,190.5 1037.5,190.5 1045.5,189.5 1053.5,187.5 1061.5,186.5 1069.5,185.5 1077.5,185.5 1085.5,183.5 1093.5,182.5 1101.5,181.5 1109.5,179.5 1117.5,178.5 1125.5,177.5 1133.5,175.5 1141.5,175.5 1149.5,174.5 1157.5,173.5 1165.5,172.5 1173.5,171.5 1181.5,170.5 1189.5,169.5 1197.5,167.5 1205.5,166.5 1213.5,165.5 1221.5,163.5 1229.5,162.5 1237.5,160.5 1245.5,159.5 1253.5,157.5 1261.5,156.5 1269.5,154.5 1277.5,153.5 1285.5,152.5 1293.5,150.5 1301.5,148.5 1309.5,146.5 1317.5,144.5 1325.5,143.5 1333.5,141.5 1341.5,139.5 1349.5,138.5 1357.5,137.5 1365.5,135.5 1373.5,134.5 1381.5,132.5 1389.5,131.5 1397.5,129.5 1405.5,127.5 1413.5,125.5 1421.5,123.5 1429.5,121.5 1437.5,118.5 1445.5,117.5 1453.5,115.5 1461.5,114.5 1469.5,112.5 1477.5,110.5 1485.5,109.5 1493.5,109.5 1501.5,109.5 1509.5,109.5 1517.5,109.5 1525.5,109.5 1533.5,109.5 1541.5,109.5 1549.5,107.5 1557.5,107.5 1565.5,107.5 1573.5,108.5 1581.5,109.5 1589.5,109.5 1597.5,109.5 1605.5,109.5 1613.5,109.5 1621.5,109.5 1629.5,108.5 1637.5,108.5 1645.5,108.5 1653.5,107.5 1661.5,107.5" fill="none" stroke="#ff00ff" stroke-width="1" />
<polyline points="41.5,506.5 45.5,502.5 53.5,493.5 61.5,485.5 69.5,479.5 77.5,473.5 85.5,469.5 93.5,465.5 101.5,461.5 109.5,455.5 117.5,450.5 125.5,443.5 133.5,436.5 141.5,432.5 149.5,427.5 157.5,422.5 165.5,414.5 173.5,408.5 181.5,404.5 189.5,401.5 197.5,397.5 205.5,392.5 213.5,388.5 221.5,385.5 229.5,381.5 237.5,374.5 245.5,369.5 253.5,365.5 261.5,361.5 269.5,358.5 277.5,355.5 285.5,353.5 293.5,350.5 301.5,348.5 309.5,346.5 317.5,346.5 325.5,346.5 333.5,347.5 341.5,347.5 349.5,348.5 357.5,347.5 365.5,346.5 373.5,345.5 381.5,344.5 389.5,344.5 397.5,343.5 405.5,342.5 413.5,343.5 421.5,341.5 429.5,340.5 437.5,338.5 445.5,337.5 453.5,335.5 461.5,334.5 469.5,333.5 477.5,332.5 485.5,330.5 493.5,329.5 501.5,325.5 509.5,322.5 517.5,319.5 525.5,316.5 533.5,312.5 541.5,309.5 549.5,305.5 557.5,301.5 565.5,297.5 573.5,293.5 581.5,289.5 589.5,282.5 597.5,276.5 605.5,270.5 613.5,264.5 621.5,259.5 629.5,256.5 637.5,250.5 645.5,245.5 653.5,240.5 661.5,235.5 669.5,232.5 677.5,229.5 685.5,225.5 693.5,221.5 701.5,217.5 709.5,213.5 717.5,209.5 725.5,206.5 733.5,203.5 741.5,200.5 749.5,197.5 757.5,195.5 765.5,195.5 773.5,196.5 781.5,197.5 789.5,196.5 797.5,194.5 805.5,193.5 813.5,191.5 821.5,190.5 829.5,188.5 837.5,186.5 845.5,185.5 853.5,184.5 861.5,183.5 869.5,183.5 877.5,182.5 885.5,182.5 893.5,182.5 901.5,182.5 909.5,182.5 917.5,182.5 925.5,182.5 933.5,181.5 941.5,179.5 949.5,178.5 957.5,179.5 965.5,183.5 973.5,183.5 981.5,183.5 989.5,183.5 997.5,183.5 1005.5,183.5 1013.5,183.5 1021.5,185.5 1029.5,186.5 1037.5,186.5 1045.5,186.5 1053.5,184.5 1061.5,183.5 1069.5,183.5 1077.5,181.5 1085.5,180.5 1093.5,179.5 1101.5,177.5 1109.5,175.5 1117.5,173.5 1125.5,169.5 1133.5,165.5 1141.5,162.5 1149.5,158.5 1157.5,155.5 1165.5,151.5 1173.5,147.5 1181.5,145.5 1189.5,142.5 1197.5,139.5 1205.5,135.5 1213.5,134.5 1221.5,133.5 1229.5,132.5 1237.5,130.5 1245.5,128.5 1253.5,127.5 1261.5,125.5 1269.5,123.5 1277.5,120.5 1285.5,117.5 1293.5,114.5 1301.5,112.5 1309.5,109.5 1317.5,106.5 1325.5,103.5 1333.5,102.5 1341.5,101.5 1349.5,99.5 1357.5,97.5 1365.5,96.5 1373.5,95.5 1381.5,94.5 1389.5,92.5 1397.5,91.5 1405.5,90.5 1413.5,89.5 1421.5,88.5 1429.5,87.5 1437.5,87.5 1445.5,86.5 1453.5,86.5 1461.5,87.5 1469.5,87.5 1477.5,89.5 1485.5,93.5 1493.5,97.5 1501.5,99.5 1509.5,102.5 1517.5,103.5 1525.5,105.5 1533.5,107.5 1541.5,109.5 1549.5,111.5 1557.5,113.5 1565.5,116.5 1573.5,119.5 1581.5,120.5 1589.5,122.5 1597.5,124.5 1605.5,125.5 1613.5,127.5 1621.5,128.5 1629.5,129.5 1637.5,129.5 1645.5,129.5 1653.5,128.5 1661.5,126.5" fill="none" stroke="#ffa500" stroke-width="1" />
<rect x="0" y="44" width="1682" height="2" fill="#ff0000"/>
<rect x="0" y="98" width="1682" height="2" fill="#32cd32"/>
<rect x="0" y="180" width="1682" height="2" fill="#4169e1"/>
<rect x="0" y="271" width="1682" height="2" fill="#4169e1"/>
<rect x="0" y="334" width="1682" height="2" fill="#4169e1"/>
</svg>
<rect x="0" y="32" width="1683" height="1" fill="#000"/>
<rect x="1682" y="32" width="1" height="471" fill="#000"/>
<rect x="0" y="502" width="1683" height="1" fill="#000"/>
<rect x="1682" y="44" width="1" height="2" fill="#ff0000"/>
<rect x="1682" y="98" width="1" height="2" fill="#32cd32"/>
<rect x="1682" y="103" width="1" height="1" fill="#778899"/>
<rect x="1682" y="180" width="1" height="2" fill="#4169e1"/>
<rect x="1682" y="271" width="1" height="2" fill="#4169e1"/>
<rect x="1682" y="334" width="1" height="2" fill="#4169e1"/>
<rect x="1683" y="37" width="2" height="1" fill="#000"/>
<text class="t" transform="translate(1687 40.5) scale(0.97 1)">41.420</text>
<rect x="1683" y="70" width="2" height="1" fill="#000"/>
<text class="t" transform="translate(1687 73.5) scale(0.97 1)">39.620</text>
<rect x="1683" y="103" width="2" height="1" fill="#000"/>
<text class="t" transform="translate(1687 106.5) scale(0.97 1)">37.770</text>
<rect x="1683" y="136" width="2" height="1" fill="#000"/>
<text class="t" transform="translate(1687 139.5) scale(0.97 1)">35.970</text>
<rect x="1683" y="169" width="2" height="1" fill="#000"/>
<text class="t" transform="translate(1687 172.5) scale(0.97 1)">34.170</text>
<rect x="1683" y="202" width="2" height="1" fill="#000"/>
<text class="t" transform="translate(1687 205.5) scale(0.97 1)">32.320</text>
<rect x="1683" y="235" width="2" height="1" fill="#000"/>
<text class="t" transform="translate(1687 238.5) scale(0.97 1)">30.520</text>
<rect x="1683" y="268" width="2" height="1" fill="#000"/>
<text class="t" transform="translate(1687 271.5) scale(0.97 1)">28.720</text>
<rect x="1683" y="301" width="2" height="1" fill="#000"/>
<text class="t" transform="translate(1687 304.5) scale(0.97 1)">26.870</text>
<rect x="1683" y="334" width="2" height="1" fill="#000"/>
<text class="t" transform="translate(1687 337.5) scale(0.97 1)">25.070</text>
<rect x="1683" y="367" width="2" height="1" fill="#000"/>
<text class="t" transform="translate(1687 370.5) scale(0.97 1)">23.270</text>
<rect x="1683" y="400" width="2" height="1" fill="#000"/>
<text class="t" transform="translate(1687 403.5) scale(0.97 1)">21.470</text>
<rect x="1683" y="433" width="2" height="1" fill="#000"/>
<text class="t" transform="translate(1687 436.5) scale(0.97 1)">19.620</text>
<rect x="1683" y="466" width="2" height="1" fill="#000"/>
<text class="t" transform="translate(1687 469.5) scale(0.97 1)">17.820</text>
<rect x="1683" y="499" width="2" height="1" fill="#000"/>
<text class="t" transform="translate(1687 502.5) scale(0.97 1)">16.020</text>
<rect x="1684" y="39" width="31" height="11" fill="#ff0000"/>
<text class="t w" transform="translate(1688 47.5) scale(0.97 1)">41.000</text>
<rect x="1684" y="98" width="31" height="11" fill="#000000"/>
<text class="t w" transform="translate(1688 106.5) scale(0.97 1)">37.800</text>
<rect x="1684" y="93" width="31" height="11" fill="#32cd32"/>
<text class="t w" transform="translate(1688 101.5) scale(0.97 1)">38.000</text>
<rect x="1684" y="175" width="31" height="11" fill="#4169e1"/>
<text class="t w" transform="translate(1688 183.5) scale(0.97 1)">33.500</text>
<rect x="1684" y="266" width="31" height="11" fill="#4169e1"/>
<text class="t w" transform="translate(1688 274.5) scale(0.97 1)">28.500</text>
<rect x="1684" y="329" width="31" height="11" fill="#4169e1"/>
<text class="t w" transform="translate(1688 337.5) scale(0.97 1)">25.000</text>
<polygon points="0,39 7,39 3.5,43" fill="#000" shape-rendering="auto"/>
<text class="t" transform="translate(12 44) scale(0.955 1)">USOil-.H4 &#160;37.630 37.830 37.600 37.800</text>
<rect x="0" y="44" width="1682" height="2" fill="#ff0000"/>
<rect x="0" y="504" width="1683" height="1" fill="#000"/>
<rect x="1682" y="504" width="1" height="140" fill="#000"/>
<rect x="0" y="643" width="1683" height="1" fill="#000"/>
<svg x="0" y="505" width="1682" height="138" viewBox="0 505 1682 138" overflow="hidden">
<rect x="5" y="574" width="1" height="32" fill="#c0c0c0"/>
<rect x="13" y="565" width="1" height="41" fill="#c0c0c0"/>
<rect x="21" y="558" width="1" height="48" fill="#c0c0c0"/>
<rect x="29" y="556" width="1" height="50" fill="#c0c0c0"/>
<rect x="37" y="551" width="1" height="55" fill="#c0c0c0"/>
<rect x="45" y="551" width="1" height="55" fill="#c0c0c0"/>
<rect x="53" y="549" width="1" height="57" fill="#c0c0c0"/>
<rect x="61" y="548" width="1" height="58" fill="#c0c0c0"/>
<rect x="69" y="552" width="1" height="54" fill="#c0c0c0"/>
<rect x="77" y="554" width="1" height="52" fill="#c0c0c0"/>
<rect x="85" y="557" width="1" height="49" fill="#c0c0c0"/>
<rect x="93" y="558" width="1" height="48" fill="#c0c0c0"/>
<rect x="101" y="557" width="1" height="49" fill="#c0c0c0"/>
<rect x="109" y="553" width="1" height="53" fill="#c0c0c0"/>
<rect x="117" y="548" width="1" height="58" fill="#c0c0c0"/>
<rect x="125" y="544" width="1" height="62" fill="#c0c0c0"/>
<rect x="133" y="539" width="1" height="67" fill="#c0c0c0"/>
<rect x="141" y="536" width="1" height="70" fill="#c0c0c0"/>
<rect x="149" y="529" width="1" height="77" fill="#c0c0c0"/>
<rect x="157" y="522" width="1" height="84" fill="#c0c0c0"/>
<rect x="165" y="514" width="1" height="92" fill="#c0c0c0"/>
<rect x="173" y="513" width="1" height="93" fill="#c0c0c0"/>
<rect x="181" y="513" width="1" height="93" fill="#c0c0c0"/>
<rect x="189" y="516" width="1" height="90" fill="#c0c0c0"/>
<rect x="197" y="523" width="1" height="83" fill="#c0c0c0"/>
<rect x="205" y="525" width="1" height="81" fill="#c0c0c0"/>
<rect x="213" y="529" width="1" height="77" fill="#c0c0c0"/>
<rect x="221" y="532" width="1" height="74" fill="#c0c0c0"/>
<rect x="229" y="536" width="1" height="70" fill="#c0c0c0"/>
<rect x="237" y="531" width="1" height="75" fill="#c0c0c0"/>
<rect x="245" y="531" width="1" height="75" fill="#c0c0c0"/>
<rect x="253" y="539" width="1" height="67" fill="#c0c0c0"/>
<rect x="261" y="546" width="1" height="60" fill="#c0c0c0"/>
<rect x="269" y="550" width="1" height="56" fill="#c0c0c0"/>
<rect x="277" y="552" width="1" height="54" fill="#c0c0c0"/>
<rect x="285" y="557" width="1" height="49" fill="#c0c0c0"/>
<rect x="293" y="560" width="1" height="46" fill="#c0c0c0"/>
<rect x="301" y="562" width="1" height="44" fill="#c0c0c0"/>
<rect x="309" y="563" width="1" height="43" fill="#c0c0c0"/>
<rect x="317" y="565" width="1" height="41" fill="#c0c0c0"/>
<rect x="325" y="567" width="1" height="39" fill="#c0c0c0"/>
<rect x="333" y="571" width="1" height="35" fill="#c0c0c0"/>
<rect x="341" y="575" width="1" height="31" fill="#c0c0c0"/>
<rect x="349" y="576" width="1" height="30" fill="#c0c0c0"/>
<rect x="357" y="577" width="1" height="29" fill="#c0c0c0"/>
<rect x="365" y="578" width="1" height="28" fill="#c0c0c0"/>
<rect x="373" y="580" width="1" height="26" fill="#c0c0c0"/>
<rect x="381" y="581" width="1" height="25" fill="#c0c0c0"/>
<rect x="389" y="579" width="1" height="27" fill="#c0c0c0"/>
<rect x="397" y="577" width="1" height="29" fill="#c0c0c0"/>
<rect x="405" y="576" width="1" height="30" fill="#c0c0c0"/>
<rect x="413" y="577" width="1" height="29" fill="#c0c0c0"/>
<rect x="421" y="577" width="1" height="29" fill="#c0c0c0"/>
<rect x="429" y="578" width="1" height="28" fill="#c0c0c0"/>
<rect x="437" y="578" width="1" height="28" fill="#c0c0c0"/>
<rect x="445" y="578" width="1" height="28" fill="#c0c0c0"/>
<rect x="453" y="580" width="1" height="26" fill="#c0c0c0"/>
<rect x="461" y="579" width="1" height="27" fill="#c0c0c0"/>
<rect x="469" y="580" width="1" height="26" fill="#c0c0c0"/>
<rect x="477" y="579" width="1" height="27" fill="#c0c0c0"/>
<rect x="485" y="578" width="1" height="28" fill="#c0c0c0"/>
<rect x="493" y="576" width="1" height="30" fill="#c0c0c0"/>
<rect x="501" y="571" width="1" height="35" fill="#c0c0c0"/>
<rect x="509" y="567" width="1" height="39" fill="#c0c0c0"/>
<rect x="517" y="564" width="1" height="42" fill="#c0c0c0"/>
<rect x="525" y="560" width="1" height="46" fill="#c0c0c0"/>
<rect x="533" y="558" width="1" height="48" fill="#c0c0c0"/>
<rect x="541" y="556" width="1" height="50" fill="#c0c0c0"/>
<rect x="549" y="552" width="1" height="54" fill="#c0c0c0"/>
<rect x="557" y="549" width="1" height="57" fill="#c0c0c0"/>
<rect x="565" y="544" width="1" height="62" fill="#c0c0c0"/>
<rect x="573" y="542" width="1" height="64" fill="#c0c0c0"/>
<rect x="581" y="538" width="1" height="68" fill="#c0c0c0"/>
<rect x="589" y="533" width="1" height="73" fill="#c0c0c0"/>
<rect x="597" y="527" width="1" height="79" fill="#c0c0c0"/>
<rect x="605" y="526" width="1" height="80" fill="#c0c0c0"/>
<rect x="613" y="524" width="1" height="82" fill="#c0c0c0"/>
<rect x="621" y="527" width="1" height="79" fill="#c0c0c0"/>
<rect x="629" y="529" width="1" height="77" fill="#c0c0c0"/>
<rect x="637" y="532" width="1" height="74" fill="#c0c0c0"/>
<rect x="645" y="536" width="1" height="70" fill="#c0c0c0"/>
<rect x="653" y="539" width="1" height="67" fill="#c0c0c0"/>
<rect x="661" y="543" width="1" height="63" fill="#c0c0c0"/>
<rect x="669" y="544" width="1" height="62" fill="#c0c0c0"/>
<rect x="677" y="548" width="1" height="58" fill="#c0c0c0"/>
<rect x="685" y="549" width="1" height="57" fill="#c0c0c0"/>
<rect x="693" y="548" width="1" height="58" fill="#c0c0c0"/>
<rect x="701" y="546" width="1" height="60" fill="#c0c0c0"/>
<rect x="709" y="545" width="1" height="61" fill="#c0c0c0"/>
<rect x="717" y="545" width="1" height="61" fill="#c0c0c0"/>
<rect x="725" y="544" width="1" height="62" fill="#c0c0c0"/>
<rect x="733" y="544" width="1" height="62" fill="#c0c0c0"/>
<rect x="741" y="546" width="1" height="60" fill="#c0c0c0"/>
<rect x="749" y="547" width="1" height="59" fill="#c0c0c0"/>
<rect x="757" y="549" width="1" height="57" fill="#c0c0c0"/>
<rect x="765" y="558" width="1" height="48" fill="#c0c0c0"/>
<rect x="773" y="568" width="1" height="38" fill="#c0c0c0"/>
<rect x="781" y="572" width="1" height="34" fill="#c0c0c0"/>
<rect x="789" y="575" width="1" height="31" fill="#c0c0c0"/>
<rect x="797" y="575" width="1" height="31" fill="#c0c0c0"/>
<rect x="805" y="574" width="1" height="32" fill="#c0c0c0"/>
<rect x="813" y="577" width="1" height="29" fill="#c0c0c0"/>
<rect x="821" y="577" width="1" height="29" fill="#c0c0c0"/>
<rect x="829" y="578" width="1" height="28" fill="#c0c0c0"/>
<rect x="837" y="579" width="1" height="27" fill="#c0c0c0"/>
<rect x="845" y="578" width="1" height="28" fill="#c0c0c0"/>
<rect x="853" y="578" width="1" height="28" fill="#c0c0c0"/>
<rect x="861" y="578" width="1" height="28" fill="#c0c0c0"/>
<rect x="869" y="577" width="1" height="29" fill="#c0c0c0"/>
<rect x="877" y="578" width="1" height="28" fill="#c0c0c0"/>
<rect x="885" y="578" width="1" height="28" fill="#c0c0c0"/>
<rect x="893" y="581" width="1" height="25" fill="#c0c0c0"/>
<rect x="901" y="581" width="1" height="25" fill="#c0c0c0"/>
<rect x="909" y="582" width="1" height="24" fill="#c0c0c0"/>
<rect x="917" y="582" width="1" height="24" fill="#c0c0c0"/>
<rect x="925" y="585" width="1" height="21" fill="#c0c0c0"/>
<rect x="933" y="587" width="1" height="19" fill="#c0c0c0"/>
<rect x="941" y="591" width="1" height="15" fill="#c0c0c0"/>
<rect x="949" y="595" width="1" height="11" fill="#c0c0c0"/>
<rect x="957" y="603" width="1" height="3" fill="#c0c0c0"/>
<rect x="965" y="605" width="1" height="5" fill="#c0c0c0"/>
<rect x="973" y="605" width="1" height="9" fill="#c0c0c0"/>
<rect x="981" y="605" width="1" height="8" fill="#c0c0c0"/>
<rect x="989" y="605" width="1" height="6" fill="#c0c0c0"/>
<rect x="997" y="605" width="1" height="4" fill="#c0c0c0"/>
<rect x="1021" y="604" width="1" height="2" fill="#c0c0c0"/>
<rect x="1029" y="604" width="1" height="2" fill="#c0c0c0"/>
<rect x="1045" y="599" width="1" height="7" fill="#c0c0c0"/>
<rect x="1053" y="593" width="1" height="13" fill="#c0c0c0"/>
<rect x="1061" y="588" width="1" height="18" fill="#c0c0c0"/>
<rect x="1069" y="584" width="1" height="22" fill="#c0c0c0"/>
<rect x="1077" y="581" width="1" height="25" fill="#c0c0c0"/>
<rect x="1085" y="579" width="1" height="27" fill="#c0c0c0"/>
<rect x="1093" y="580" width="1" height="26" fill="#c0c0c0"/>
<rect x="1101" y="578" width="1" height="28" fill="#c0c0c0"/>
<rect x="1109" y="577" width="1" height="29" fill="#c0c0c0"/>
<rect x="1117" y="576" width="1" height="30" fill="#c0c0c0"/>
<rect x="1125" y="575" width="1" height="31" fill="#c0c0c0"/>
<rect x="1133" y="573" width="1" height="33" fill="#c0c0c0"/>
<rect x="1141" y="572" width="1" height="34" fill="#c0c0c0"/>
<rect x="1149" y="569" width="1" height="37" fill="#c0c0c0"/>
<rect x="1157" y="566" width="1" height="40" fill="#c0c0c0"/>
<rect x="1165" y="563" width="1" height="43" fill="#c0c0c0"/>
<rect x="1173" y="561" width="1" height="45" fill="#c0c0c0"/>
<rect x="1181" y="565" width="1" height="41" fill="#c0c0c0"/>
<rect x="1189" y="568" width="1" height="38" fill="#c0c0c0"/>
<rect x="1197" y="569" width="1" height="37" fill="#c0c0c0"/>
<rect x="1205" y="569" width="1" height="37" fill="#c0c0c0"/>
<rect x="1213" y="572" width="1" height="34" fill="#c0c0c0"/>
<rect x="1221" y="574" width="1" height="32" fill="#c0c0c0"/>
<rect x="1229" y="575" width="1" height="31" fill="#c0c0c0"/>
<rect x="1237" y="577" width="1" height="29" fill="#c0c0c0"/>
<rect x="1245" y="577" width="1" height="29" fill="#c0c0c0"/>
<rect x="1253" y="577" width="1" height="29" fill="#c0c0c0"/>
<rect x="1261" y="577" width="1" height="29" fill="#c0c0c0"/>
<rect x="1269" y="575" width="1" height="31" fill="#c0c0c0"/>
<rect x="1277" y="573" width="1" height="33" fill="#c0c0c0"/>
<rect x="1285" y="568" width="1" height="38" fill="#c0c0c0"/>
<rect x="1293" y="565" width="1" height="41" fill="#c0c0c0"/>
<rect x="1301" y="563" width="1" height="43" fill="#c0c0c0"/>
<rect x="1309" y="558" width="1" height="48" fill="#c0c0c0"/>
<rect x="1317" y="555" width="1" height="51" fill="#c0c0c0"/>
<rect x="1325" y="554" width="1" height="52" fill="#c0c0c0"/>
<rect x="1333" y="557" width="1" height="49" fill="#c0c0c0"/>
<rect x="1341" y="563" width="1" height="43" fill="#c0c0c0"/>
<rect x="1349" y="568" width="1" height="38" fill="#c0c0c0"/>
<rect x="1357" y="571" width="1" height="35" fill="#c0c0c0"/>
<rect x="1365" y="574" width="1" height="32" fill="#c0c0c0"/>
<rect x="1373" y="580" width="1" height="26" fill="#c0c0c0"/>
<rect x="1381" y="583" width="1" height="23" fill="#c0c0c0"/>
<rect x="1389" y="586" width="1" height="20" fill="#c0c0c0"/>
<rect x="1397" y="587" width="1" height="19" fill="#c0c0c0"/>
<rect x="1405" y="589" width="1" height="17" fill="#c0c0c0"/>
<rect x="1413" y="591" width="1" height="15" fill="#c0c0c0"/>
<rect x="1421" y="593" width="1" height="13" fill="#c0c0c0"/>
<rect x="1429" y="595" width="1" height="11" fill="#c0c0c0"/>
<rect x="1437" y="594" width="1" height="12" fill="#c0c0c0"/>
<rect x="1445" y="593" width="1" height="13" fill="#c0c0c0"/>
<rect x="1453" y="593" width="1" height="13" fill="#c0c0c0"/>
<rect x="1461" y="595" width="1" height="11" fill="#c0c0c0"/>
<rect x="1469" y="597" width="1" height="9" fill="#c0c0c0"/>
<rect x="1477" y="600" width="1" height="6" fill="#c0c0c0"/>
<rect x="1485" y="605" width="1" height="3" fill="#c0c0c0"/>
<rect x="1493" y="605" width="1" height="10" fill="#c0c0c0"/>
<rect x="1501" y="605" width="1" height="16" fill="#c0c0c0"/>
<rect x="1509" y="605" width="1" height="22" fill="#c0c0c0"/>
<rect x="1517" y="605" width="1" height="25" fill="#c0c0c0"/>
<rect x="1525" y="605" width="1" height="25" fill="#c0c0c0"/>
<rect x="1533" y="605" width="1" height="25" fill="#c0c0c0"/>
<rect x="1541" y="605" width="1" height="25" fill="#c0c0c0"/>
<rect x="1549" y="605" width="1" height="24" fill="#c0c0c0"/>
<rect x="1557" y="605" width="1" height="26" fill="#c0c0c0"/>
<rect x="1565" y="605" width="1" height="28" fill="#c0c0c0"/>
<rect x="1573" y="605" width="1" height="32" fill="#c0c0c0"/>
<rect x="1581" y="605" width="1" height="32" fill="#c0c0c0"/>
<rect x="1589" y="605" width="1" height="30" fill="#c0c0c0"/>
<rect x="1597" y="605" width="1" height="24" fill="#c0c0c0"/>
<rect x="1605" y="605" width="1" height="17" fill="#c0c0c0"/>
<rect x="1613" y="605" width="1" height="14" fill="#c0c0c0"/>
<rect x="1621" y="605" width="1" height="11" fill="#c0c0c0"/>
<rect x="1629" y="605" width="1" height="4" fill="#c0c0c0"/>
<rect x="1637" y="605" width="1" height="3" fill="#c0c0c0"/>
<rect x="1645" y="603" width="1" height="3" fill="#c0c0c0"/>
<rect x="1653" y="601" width="1" height="5" fill="#c0c0c0"/>
<rect x="1661" y="599" width="1" height="7" fill="#c0c0c0"/>
<polyline points="0.5,613.5 5.5,608.5 13.5,600.5 21.5,592.5 29.5,582.5 37.5,575.5 45.5,570.5 53.5,564.5 61.5,559.5 69.5,554.5 77.5,553.5 85.5,552.5 93.5,552.5 101.5,552.5 109.5,552.5 117.5,552.5 125.5,551.5 133.5,550.5 141.5,549.5 149.5,545.5 157.5,541.5 165.5,537.5 173.5,532.5 181.5,527.5 189.5,523.5 197.5,522.5 205.5,520.5 213.5,519.5 221.5,520.5 229.5,521.5 237.5,523.5 245.5,524.5 253.5,528.5 261.5,531.5 269.5,534.5 277.5,537.5 285.5,541.5 293.5,545.5 301.5,546.5 309.5,550.5 317.5,554.5 325.5,557.5 333.5,559.5 341.5,562.5 349.5,565.5 357.5,567.5 365.5,569.5 373.5,571.5 381.5,573.5 389.5,575.5 397.5,576.5 405.5,577.5 413.5,577.5 421.5,577.5 429.5,577.5 437.5,577.5 445.5,577.5 453.5,577.5 461.5,577.5 469.5,577.5 477.5,577.5 485.5,577.5 493.5,577.5 501.5,577.5 509.5,575.5 517.5,574.5 525.5,572.5 533.5,569.5 541.5,567.5 549.5,564.5 557.5,560.5 565.5,557.5 573.5,555.5 581.5,550.5 589.5,546.5 597.5,543.5 605.5,539.5 613.5,536.5 621.5,532.5 629.5,531.5 637.5,530.5 645.5,529.5 653.5,529.5 661.5,530.5 669.5,532.5 677.5,535.5 685.5,537.5 693.5,540.5 701.5,541.5 709.5,543.5 717.5,544.5 725.5,545.5 733.5,545.5 741.5,545.5 749.5,545.5 757.5,545.5 765.5,546.5 773.5,549.5 781.5,552.5 789.5,555.5 797.5,557.5 805.5,561.5 813.5,564.5 821.5,569.5 829.5,572.5 837.5,573.5 845.5,575.5 853.5,577.5 861.5,577.5 869.5,577.5 877.5,577.5 885.5,577.5 893.5,577.5 901.5,577.5 909.5,578.5 917.5,578.5 925.5,579.5 933.5,580.5 941.5,581.5 949.5,584.5 957.5,586.5 965.5,590.5 973.5,593.5 981.5,596.5 989.5,600.5 997.5,603.5 1005.5,605.5 1013.5,607.5 1021.5,608.5 1029.5,609.5 1037.5,608.5 1045.5,607.5 1053.5,604.5 1061.5,602.5 1069.5,599.5 1077.5,596.5 1085.5,592.5 1093.5,590.5 1101.5,586.5 1109.5,583.5 1117.5,581.5 1125.5,578.5 1133.5,577.5 1141.5,576.5 1149.5,575.5 1157.5,573.5 1165.5,571.5 1173.5,570.5 1181.5,568.5 1189.5,567.5 1197.5,566.5 1205.5,566.5 1213.5,566.5 1221.5,566.5 1229.5,567.5 1237.5,569.5 1245.5,570.5 1253.5,572.5 1261.5,573.5 1269.5,574.5 1277.5,574.5 1285.5,574.5 1293.5,574.5 1301.5,571.5 1309.5,569.5 1317.5,567.5 1325.5,564.5 1333.5,562.5 1341.5,561.5 1349.5,560.5 1357.5,560.5 1365.5,561.5 1373.5,563.5 1381.5,566.5 1389.5,569.5 1397.5,572.5 1405.5,576.5 1413.5,579.5 1421.5,582.5 1429.5,585.5 1437.5,587.5 1445.5,589.5 1453.5,590.5 1461.5,591.5 1469.5,592.5 1477.5,594.5 1485.5,595.5 1493.5,599.5 1501.5,601.5 1509.5,604.5 1517.5,608.5 1525.5,613.5 1533.5,616.5 1541.5,620.5 1549.5,623.5 1557.5,626.5 1565.5,628.5 1573.5,630.5 1581.5,631.5 1589.5,631.5 1597.5,631.5 1605.5,631.5 1613.5,629.5 1621.5,628.5 1629.5,626.5 1637.5,622.5 1645.5,618.5 1653.5,615.5 1661.5,611.5" fill="none" stroke="#ff0000" stroke-width="1" stroke-dasharray="3,3"/>
</svg>
<text class="t" transform="translate(1 517) scale(0.97 1)">MACD(12,26,9) 0.1640 -0.1306</text>
<rect x="1683" y="506" width="2" height="1" fill="#000"/>
<text class="t" transform="translate(1686 515) scale(0.97 1)">2.1772</text>
<rect x="1683" y="605" width="2" height="1" fill="#000"/>
<text class="t" transform="translate(1686 609) scale(0.97 1)">0.00</text>
<rect x="1683" y="641" width="2" height="1" fill="#000"/>
<text class="t" transform="translate(1686 640) scale(0.97 1)">-0.819</text>
<rect x="0" y="645" width="1683" height="1" fill="#000"/>
<rect x="1682" y="645" width="1" height="129" fill="#000"/>
<rect x="0" y="773" width="1683" height="1" fill="#000"/>
<rect x="1683" y="646" width="1" height="1" fill="#000"/>
<rect x="1683" y="772" width="1" height="1" fill="#000"/>
<svg x="0" y="646" width="1682" height="127" viewBox="0 646 1682 127" overflow="hidden">
<rect x="-2" y="684" width="3" height="1" fill="#c0c0c0"/>
<rect x="4" y="684" width="3" height="1" fill="#c0c0c0"/>
<rect x="10" y="684" width="3" height="1" fill="#c0c0c0"/>
<rect x="16" y="684" width="3" height="1" fill="#c0c0c0"/>
<rect x="22" y="684" width="3" height="1" fill="#c0c0c0"/>
<rect x="28" y="684" width="3" height="1" fill="#c0c0c0"/>
<rect x="34" y="684" width="3" height="1" fill="#c0c0c0"/>
<rect x="40" y="684" width="3" height="1" fill="#c0c0c0"/>
<rect x="46" y="684" width="3" height="1" fill="#c0c0c0"/>
<rect x="52" y="684" width="3" height="1" fill="#c0c0c0"/>
<rect x="58" y="684" width="3" height="1" fill="#c0c0c0"/>
<rect x="64" y="684" width="3" height="1" fill="#c0c0c0"/>
<rect x="70" y="684" width="3" height="1" fill="#c0c0c0"/>
<rect x="76" y="684" width="3" height="1" fill="#c0c0c0"/>
<rect x="82" y="684" width="3" height="1" fill="#c0c0c0"/>
<rect x="88" y="684" width="3" height="1" fill="#c0c0c0"/>
<rect x="94" y="684" width="3" height="1" fill="#c0c0c0"/>
<rect x="100" y="684" width="3" height="1" fill="#c0c0c0"/>
<rect x="106" y="684" width="3" height="1" fill="#c0c0c0"/>
<rect x="112" y="684" width="3" height="1" fill="#c0c0c0"/>
<rect x="118" y="684" width="3" height="1" fill="#c0c0c0"/>
<rect x="124" y="684" width="3" height="1" fill="#c0c0c0"/>
<rect x="130" y="684" width="3" height="1" fill="#c0c0c0"/>
<rect x="136" y="684" width="3" height="1" fill="#c0c0c0"/>
<rect x="142" y="684" width="3" height="1" fill="#c0c0c0"/>
<rect x="148" y="684" width="3" height="1" fill="#c0c0c0"/>
<rect x="154" y="684" width="3" height="1" fill="#c0c0c0"/>
<rect x="160" y="684" width="3" height="1" fill="#c0c0c0"/>
<rect x="166" y="684" width="3" height="1" fill="#c0c0c0"/>
<rect x="172" y="684" width="3" height="1" fill="#c0c0c0"/>
<rect x="178" y="684" width="3" height="1" fill="#c0c0c0"/>
<rect x="184" y="684" width="3" height="1" fill="#c0c0c0"/>
<rect x="190" y="684" width="3" height="1" fill="#c0c0c0"/>
<rect x="196" y="684" width="3" height="1" fill="#c0c0c0"/>
<rect x="202" y="684" width="3" height="1" fill="#c0c0c0"/>
<rect x="208" y="684" width="3" height="1" fill="#c0c0c0"/>
<rect x="214" y="684" width="3" height="1" fill="#c0c0c0"/>
<rect x="220" y="684" width="3" height="1" fill="#c0c0c0"/>
<rect x="226" y="684" width="3" height="1" fill="#c0c0c0"/>
<rect x="232" y="684" width="3" height="1" fill="#c0c0c0"/>
<rect x="238" y="684" width="3" height="1" fill="#c0c0c0"/>
<rect x="244" y="684" width="3" height="1" fill="#c0c0c0"/>
<rect x="250" y="684" width="3" height="1" fill="#c0c0c0"/>
<rect x="256" y="684" width="3" height="1" fill="#c0c0c0"/>
<rect x="262" y="684" width="3" height="1" fill="#c0c0c0"/>
<rect x="268" y="684" width="3" height="1" fill="#c0c0c0"/>
<rect x="274" y="684" width="3" height="1" fill="#c0c0c0"/>
<rect x="280" y="684" width="3" height="1" fill="#c0c0c0"/>
<rect x="286" y="684" width="3" height="1" fill="#c0c0c0"/>
<rect x="292" y="684" width="3" height="1" fill="#c0c0c0"/>
<rect x="298" y="684" width="3" height="1" fill="#c0c0c0"/>
<rect x="304" y="684" width="3" height="1" fill="#c0c0c0"/>
<rect x="310" y="684" width="3" height="1" fill="#c0c0c0"/>
<rect x="316" y="684" width="3" height="1" fill="#c0c0c0"/>
<rect x="322" y="684" width="3" height="1" fill="#c0c0c0"/>
<rect x="328" y="684" width="3" height="1" fill="#c0c0c0"/>
<rect x="334" y="684" width="3" height="1" fill="#c0c0c0"/>
<rect x="340" y="684" width="3" height="1" fill="#c0c0c0"/>
<rect x="346" y="684" width="3" height="1" fill="#c0c0c0"/>
<rect x="352" y="684" width="3" height="1" fill="#c0c0c0"/>
<rect x="358" y="684" width="3" height="1" fill="#c0c0c0"/>
<rect x="364" y="684" width="3" height="1" fill="#c0c0c0"/>
<rect x="370" y="684" width="3" height="1" fill="#c0c0c0"/>
<rect x="376" y="684" width="3" height="1" fill="#c0c0c0"/>
<rect x="382" y="684" width="3" height="1" fill="#c0c0c0"/>
<rect x="388" y="684" width="3" height="1" fill="#c0c0c0"/>
<rect x="394" y="684" width="3" height="1" fill="#c0c0c0"/>
<rect x="400" y="684" width="3" height="1" fill="#c0c0c0"/>
<rect x="406" y="684" width="3" height="1" fill="#c0c0c0"/>
<rect x="412" y="684" width="3" height="1" fill="#c0c0c0"/>
<rect x="418" y="684" width="3" height="1" fill="#c0c0c0"/>
<rect x="424" y="684" width="3" height="1" fill="#c0c0c0"/>
<rect x="430" y="684" width="3" height="1" fill="#c0c0c0"/>
<rect x="436" y="684" width="3" height="1" fill="#c0c0c0"/>
<rect x="442" y="684" width="3" height="1" fill="#c0c0c0"/>
<rect x="448" y="684" width="3" height="1" fill="#c0c0c0"/>
<rect x="454" y="684" width="3" height="1" fill="#c0c0c0"/>
<rect x="460" y="684" width="3" height="1" fill="#c0c0c0"/>
<rect x="466" y="684" width="3" height="1" fill="#c0c0c0"/>
<rect x="472" y="684" width="3" height="1" fill="#c0c0c0"/>
<rect x="478" y="684" width="3" height="1" fill="#c0c0c0"/>
<rect x="484" y="684" width="3" height="1" fill="#c0c0c0"/>
<rect x="490" y="684" width="3" height="1" fill="#c0c0c0"/>
<rect x="496" y="684" width="3" height="1" fill="#c0c0c0"/>
<rect x="502" y="684" width="3" height="1" fill="#c0c0c0"/>
<rect x="508" y="684" width="3" height="1" fill="#c0c0c0"/>
<rect x="514" y="684" width="3" height="1" fill="#c0c0c0"/>
<rect x="520" y="684" width="3" height="1" fill="#c0c0c0"/>
<rect x="526" y="684" width="3" height="1" fill="#c0c0c0"/>
<rect x="532" y="684" width="3" height="1" fill="#c0c0c0"/>
<rect x="538" y="684" width="3" height="1" fill="#c0c0c0"/>
<rect x="544" y="684" width="3" height="1" fill="#c0c0c0"/>
<rect x="550" y="684" width="3" height="1" fill="#c0c0c0"/>
<rect x="556" y="684" width="3" height="1" fill="#c0c0c0"/>
<rect x="562" y="684" width="3" height="1" fill="#c0c0c0"/>
<rect x="568" y="684" width="3" height="1" fill="#c0c0c0"/>
<rect x="574" y="684" width="3" height="1" fill="#c0c0c0"/>
<rect x="580" y="684" width="3" height="1" fill="#c0c0c0"/>
<rect x="586" y="684" width="3" height="1" fill="#c0c0c0"/>
<rect x="592" y="684" width="3" height="1" fill="#c0c0c0"/>
<rect x="598" y="684" width="3" height="1" fill="#c0c0c0"/>
<rect x="604" y="684" width="3" height="1" fill="#c0c0c0"/>
<rect x="610" y="684" width="3" height="1" fill="#c0c0c0"/>
<rect x="616" y="684" width="3" height="1" fill="#c0c0c0"/>
<rect x="622" y="684" width="3" height="1" fill="#c0c0c0"/>
<rect x="628" y="684" width="3" height="1" fill="#c0c0c0"/>
<rect x="634" y="684" width="3" height="1" fill="#c0c0c0"/>
<rect x="640" y="684" width="3" height="1" fill="#c0c0c0"/>
<rect x="646" y="684" width="3" height="1" fill="#c0c0c0"/>
<rect x="652" y="684" width="3" height="1" fill="#c0c0c0"/>
<rect x="658" y="684" width="3" height="1" fill="#c0c0c0"/>
<rect x="664" y="684" width="3" height="1" fill="#c0c0c0"/>
<rect x="670" y="684" width="3" height="1" fill="#c0c0c0"/>
<rect x="676" y="684" width="3" height="1" fill="#c0c0c0"/>
<rect x="682" y="684" width="3" height="1" fill="#c0c0c0"/>
<rect x="688" y="684" width="3" height="1" fill="#c0c0c0"/>
<rect x="694" y="684" width="3" height="1" fill="#c0c0c0"/>
<rect x="700" y="684" width="3" height="1" fill="#c0c0c0"/>
<rect x="706" y="684" width="3" height="1" fill="#c0c0c0"/>
<rect x="712" y="684" width="3" height="1" fill="#c0c0c0"/>
<rect x="718" y="684" width="3" height="1" fill="#c0c0c0"/>
<rect x="724" y="684" width="3" height="1" fill="#c0c0c0"/>
<rect x="730" y="684" width="3" height="1" fill="#c0c0c0"/>
<rect x="736" y="684" width="3" height="1" fill="#c0c0c0"/>
<rect x="742" y="684" width="3" height="1" fill="#c0c0c0"/>
<rect x="748" y="684" width="3" height="1" fill="#c0c0c0"/>
<rect x="754" y="684" width="3" height="1" fill="#c0c0c0"/>
<rect x="760" y="684" width="3" height="1" fill="#c0c0c0"/>
<rect x="766" y="684" width="3" height="1" fill="#c0c0c0"/>
<rect x="772" y="684" width="3" height="1" fill="#c0c0c0"/>
<rect x="778" y="684" width="3" height="1" fill="#c0c0c0"/>
<rect x="784" y="684" width="3" height="1" fill="#c0c0c0"/>
<rect x="790" y="684" width="3" height="1" fill="#c0c0c0"/>
<rect x="796" y="684" width="3" height="1" fill="#c0c0c0"/>
<rect x="802" y="684" width="3" height="1" fill="#c0c0c0"/>
<rect x="808" y="684" width="3" height="1" fill="#c0c0c0"/>
<rect x="814" y="684" width="3" height="1" fill="#c0c0c0"/>
<rect x="820" y="684" width="3" height="1" fill="#c0c0c0"/>
<rect x="826" y="684" width="3" height="1" fill="#c0c0c0"/>
<rect x="832" y="684" width="3" height="1" fill="#c0c0c0"/>
<rect x="838" y="684" width="3" height="1" fill="#c0c0c0"/>
<rect x="844" y="684" width="3" height="1" fill="#c0c0c0"/>
<rect x="850" y="684" width="3" height="1" fill="#c0c0c0"/>
<rect x="856" y="684" width="3" height="1" fill="#c0c0c0"/>
<rect x="862" y="684" width="3" height="1" fill="#c0c0c0"/>
<rect x="868" y="684" width="3" height="1" fill="#c0c0c0"/>
<rect x="874" y="684" width="3" height="1" fill="#c0c0c0"/>
<rect x="880" y="684" width="3" height="1" fill="#c0c0c0"/>
<rect x="886" y="684" width="3" height="1" fill="#c0c0c0"/>
<rect x="892" y="684" width="3" height="1" fill="#c0c0c0"/>
<rect x="898" y="684" width="3" height="1" fill="#c0c0c0"/>
<rect x="904" y="684" width="3" height="1" fill="#c0c0c0"/>
<rect x="910" y="684" width="3" height="1" fill="#c0c0c0"/>
<rect x="916" y="684" width="3" height="1" fill="#c0c0c0"/>
<rect x="922" y="684" width="3" height="1" fill="#c0c0c0"/>
<rect x="928" y="684" width="3" height="1" fill="#c0c0c0"/>
<rect x="934" y="684" width="3" height="1" fill="#c0c0c0"/>
<rect x="940" y="684" width="3" height="1" fill="#c0c0c0"/>
<rect x="946" y="684" width="3" height="1" fill="#c0c0c0"/>
<rect x="952" y="684" width="3" height="1" fill="#c0c0c0"/>
<rect x="958" y="684" width="3" height="1" fill="#c0c0c0"/>
<rect x="964" y="684" width="3" height="1" fill="#c0c0c0"/>
<rect x="970" y="684" width="3" height="1" fill="#c0c0c0"/>
<rect x="976" y="684" width="3" height="1" fill="#c0c0c0"/>
<rect x="982" y="684" width="3" height="1" fill="#c0c0c0"/>
<rect x="988" y="684" width="3" height="1" fill="#c0c0c0"/>
<rect x="994" y="684" width="3" height="1" fill="#c0c0c0"/>
<rect x="1000" y="684" width="3" height="1" fill="#c0c0c0"/>
<rect x="1006" y="684" width="3" height="1" fill="#c0c0c0"/>
<rect x="1012" y="684" width="3" height="1" fill="#c0c0c0"/>
<rect x="1018" y="684" width="3" height="1" fill="#c0c0c0"/>
<rect x="1024" y="684" width="3" height="1" fill="#c0c0c0"/>
<rect x="1030" y="684" width="3" height="1" fill="#c0c0c0"/>
<rect x="1036" y="684" width="3" height="1" fill="#c0c0c0"/>
<rect x="1042" y="684" width="3" height="1" fill="#c0c0c0"/>
<rect x="1048" y="684" width="3" height="1" fill="#c0c0c0"/>
<rect x="1054" y="684" width="3" height="1" fill="#c0c0c0"/>
<rect x="1060" y="684" width="3" height="1" fill="#c0c0c0"/>
<rect x="1066" y="684" width="3" height="1" fill="#c0c0c0"/>
<rect x="1072" y="684" width="3" height="1" fill="#c0c0c0"/>
<rect x="1078" y="684" width="3" height="1" fill="#c0c0c0"/>
<rect x="1084" y="684" width="3" height="1" fill="#c0c0c0"/>
<rect x="1090" y="684" width="3" height="1" fill="#c0c0c0"/>
<rect x="1096" y="684" width="3" height="1" fill="#c0c0c0"/>
<rect x="1102" y="684" width="3" height="1" fill="#c0c0c0"/>
<rect x="1108" y="684" width="3" height="1" fill="#c0c0c0"/>
<rect x="1114" y="684" width="3" height="1" fill="#c0c0c0"/>
<rect x="1120" y="684" width="3" height="1" fill="#c0c0c0"/>
<rect x="1126" y="684" width="3" height="1" fill="#c0c0c0"/>
<rect x="1132" y="684" width="3" height="1" fill="#c0c0c0"/>
<rect x="1138" y="684" width="3" height="1" fill="#c0c0c0"/>
<rect x="1144" y="684" width="3" height="1" fill="#c0c0c0"/>
<rect x="1150" y="684" width="3" height="1" fill="#c0c0c0"/>
<rect x="1156" y="684" width="3" height="1" fill="#c0c0c0"/>
<rect x="1162" y="684" width="3" height="1" fill="#c0c0c0"/>
<rect x="1168" y="684" width="3" height="1" fill="#c0c0c0"/>
<rect x="1174" y="684" width="3" height="1" fill="#c0c0c0"/>
<rect x="1180" y="684" width="3" height="1" fill="#c0c0c0"/>
<rect x="1186" y="684" width="3" height="1" fill="#c0c0c0"/>
<rect x="1192" y="684" width="3" height="1" fill="#c0c0c0"/>
<rect x="1198" y="684" width="3" height="1" fill="#c0c0c0"/>
<rect x="1204" y="684" width="3" height="1" fill="#c0c0c0"/>
<rect x="1210" y="684" width="3" height="1" fill="#c0c0c0"/>
<rect x="1216" y="684" width="3" height="1" fill="#c0c0c0"/>
<rect x="1222" y="684" width="3" height="1" fill="#c0c0c0"/>
<rect x="1228" y="684" width="3" height="1" fill="#c0c0c0"/>
<rect x="1234" y="684" width="3" height="1" fill="#c0c0c0"/>
<rect x="1240" y="684" width="3" height="1" fill="#c0c0c0"/>
<rect x="1246" y="684" width="3" height="1" fill="#c0c0c0"/>
<rect x="1252" y="684" width="3" height="1" fill="#c0c0c0"/>
<rect x="1258" y="684" width="3" height="1" fill="#c0c0c0"/>
<rect x="1264" y="684" width="3" height="1" fill="#c0c0c0"/>
<rect x="1270" y="684" width="3" height="1" fill="#c0c0c0"/>
<rect x="1276" y="684" width="3" height="1" fill="#c0c0c0"/>
<rect x="1282" y="684" width="3" height="1" fill="#c0c0c0"/>
<rect x="1288" y="684" width="3" height="1" fill="#c0c0c0"/>
<rect x="1294" y="684" width="3" height="1" fill="#c0c0c0"/>
<rect x="1300" y="684" width="3" height="1" fill="#c0c0c0"/>
<rect x="1306" y="684" width="3" height="1" fill="#c0c0c0"/>
<rect x="1312" y="684" width="3" height="1" fill="#c0c0c0"/>
<rect x="1318" y="684" width="3" height="1" fill="#c0c0c0"/>
<rect x="1324" y="684" width="3" height="1" fill="#c0c0c0"/>
<rect x="1330" y="684" width="3" height="1" fill="#c0c0c0"/>
<rect x="1336" y="684" width="3" height="1" fill="#c0c0c0"/>
<rect x="1342" y="684" width="3" height="1" fill="#c0c0c0"/>
<rect x="1348" y="684" width="3" height="1" fill="#c0c0c0"/>
<rect x="1354" y="684" width="3" height="1" fill="#c0c0c0"/>
<rect x="1360" y="684" width="3" height="1" fill="#c0c0c0"/>
<rect x="1366" y="684" width="3" height="1" fill="#c0c0c0"/>
<rect x="1372" y="684" width="3" height="1" fill="#c0c0c0"/>
<rect x="1378" y="684" width="3" height="1" fill="#c0c0c0"/>
<rect x="1384" y="684" width="3" height="1" fill="#c0c0c0"/>
<rect x="1390" y="684" width="3" height="1" fill="#c0c0c0"/>
<rect x="1396" y="684" width="3" height="1" fill="#c0c0c0"/>
<rect x="1402" y="684" width="3" height="1" fill="#c0c0c0"/>
<rect x="1408" y="684" width="3" height="1" fill="#c0c0c0"/>
<rect x="1414" y="684" width="3" height="1" fill="#c0c0c0"/>
<rect x="1420" y="684" width="3" height="1" fill="#c0c0c0"/>
<rect x="1426" y="684" width="3" height="1" fill="#c0c0c0"/>
<rect x="1432" y="684" width="3" height="1" fill="#c0c0c0"/>
<rect x="1438" y="684" width="3" height="1" fill="#c0c0c0"/>
<rect x="1444" y="684" width="3" height="1" fill="#c0c0c0"/>
<rect x="1450" y="684" width="3" height="1" fill="#c0c0c0"/>
<rect x="1456" y="684" width="3" height="1" fill="#c0c0c0"/>
<rect x="1462" y="684" width="3" height="1" fill="#c0c0c0"/>
<rect x="1468" y="684" width="3" height="1" fill="#c0c0c0"/>
<rect x="1474" y="684" width="3" height="1" fill="#c0c0c0"/>
<rect x="1480" y="684" width="3" height="1" fill="#c0c0c0"/>
<rect x="1486" y="684" width="3" height="1" fill="#c0c0c0"/>
<rect x="1492" y="684" width="3" height="1" fill="#c0c0c0"/>
<rect x="1498" y="684" width="3" height="1" fill="#c0c0c0"/>
<rect x="1504" y="684" width="3" height="1" fill="#c0c0c0"/>
<rect x="1510" y="684" width="3" height="1" fill="#c0c0c0"/>
<rect x="1516" y="684" width="3" height="1" fill="#c0c0c0"/>
<rect x="1522" y="684" width="3" height="1" fill="#c0c0c0"/>
<rect x="1528" y="684" width="3" height="1" fill="#c0c0c0"/>
<rect x="1534" y="684" width="3" height="1" fill="#c0c0c0"/>
<rect x="1540" y="684" width="3" height="1" fill="#c0c0c0"/>
<rect x="1546" y="684" width="3" height="1" fill="#c0c0c0"/>
<rect x="1552" y="684" width="3" height="1" fill="#c0c0c0"/>
<rect x="1558" y="684" width="3" height="1" fill="#c0c0c0"/>
<rect x="1564" y="684" width="3" height="1" fill="#c0c0c0"/>
<rect x="1570" y="684" width="3" height="1" fill="#c0c0c0"/>
<rect x="1576" y="684" width="3" height="1" fill="#c0c0c0"/>
<rect x="1582" y="684" width="3" height="1" fill="#c0c0c0"/>
<rect x="1588" y="684" width="3" height="1" fill="#c0c0c0"/>
<rect x="1594" y="684" width="3" height="1" fill="#c0c0c0"/>
<rect x="1600" y="684" width="3" height="1" fill="#c0c0c0"/>
<rect x="1606" y="684" width="3" height="1" fill="#c0c0c0"/>
<rect x="1612" y="684" width="3" height="1" fill="#c0c0c0"/>
<rect x="1618" y="684" width="3" height="1" fill="#c0c0c0"/>
<rect x="1624" y="684" width="3" height="1" fill="#c0c0c0"/>
<rect x="1630" y="684" width="3" height="1" fill="#c0c0c0"/>
<rect x="1636" y="684" width="3" height="1" fill="#c0c0c0"/>
<rect x="1642" y="684" width="3" height="1" fill="#c0c0c0"/>
<rect x="1648" y="684" width="3" height="1" fill="#c0c0c0"/>
<rect x="1654" y="684" width="3" height="1" fill="#c0c0c0"/>
<rect x="1660" y="684" width="3" height="1" fill="#c0c0c0"/>
<rect x="1666" y="684" width="3" height="1" fill="#c0c0c0"/>
<rect x="1672" y="684" width="3" height="1" fill="#c0c0c0"/>
<rect x="1678" y="684" width="3" height="1" fill="#c0c0c0"/>
<rect x="-2" y="735" width="3" height="1" fill="#c0c0c0"/>
<rect x="4" y="735" width="3" height="1" fill="#c0c0c0"/>
<rect x="10" y="735" width="3" height="1" fill="#c0c0c0"/>
<rect x="16" y="735" width="3" height="1" fill="#c0c0c0"/>
<rect x="22" y="735" width="3" height="1" fill="#c0c0c0"/>
<rect x="28" y="735" width="3" height="1" fill="#c0c0c0"/>
<rect x="34" y="735" width="3" height="1" fill="#c0c0c0"/>
<rect x="40" y="735" width="3" height="1" fill="#c0c0c0"/>
<rect x="46" y="735" width="3" height="1" fill="#c0c0c0"/>
<rect x="52" y="735" width="3" height="1" fill="#c0c0c0"/>
<rect x="58" y="735" width="3" height="1" fill="#c0c0c0"/>
<rect x="64" y="735" width="3" height="1" fill="#c0c0c0"/>
<rect x="70" y="735" width="3" height="1" fill="#c0c0c0"/>
<rect x="76" y="735" width="3" height="1" fill="#c0c0c0"/>
<rect x="82" y="735" width="3" height="1" fill="#c0c0c0"/>
<rect x="88" y="735" width="3" height="1" fill="#c0c0c0"/>
<rect x="94" y="735" width="3" height="1" fill="#c0c0c0"/>
<rect x="100" y="735" width="3" height="1" fill="#c0c0c0"/>
<rect x="106" y="735" width="3" height="1" fill="#c0c0c0"/>
<rect x="112" y="735" width="3" height="1" fill="#c0c0c0"/>
<rect x="118" y="735" width="3" height="1" fill="#c0c0c0"/>
<rect x="124" y="735" width="3" height="1" fill="#c0c0c0"/>
<rect x="130" y="735" width="3" height="1" fill="#c0c0c0"/>
<rect x="136" y="735" width="3" height="1" fill="#c0c0c0"/>
<rect x="142" y="735" width="3" height="1" fill="#c0c0c0"/>
<rect x="148" y="735" width="3" height="1" fill="#c0c0c0"/>
<rect x="154" y="735" width="3" height="1" fill="#c0c0c0"/>
<rect x="160" y="735" width="3" height="1" fill="#c0c0c0"/>
<rect x="166" y="735" width="3" height="1" fill="#c0c0c0"/>
<rect x="172" y="735" width="3" height="1" fill="#c0c0c0"/>
<rect x="178" y="735" width="3" height="1" fill="#c0c0c0"/>
<rect x="184" y="735" width="3" height="1" fill="#c0c0c0"/>
<rect x="190" y="735" width="3" height="1" fill="#c0c0c0"/>
<rect x="196" y="735" width="3" height="1" fill="#c0c0c0"/>
<rect x="202" y="735" width="3" height="1" fill="#c0c0c0"/>
<rect x="208" y="735" width="3" height="1" fill="#c0c0c0"/>
<rect x="214" y="735" width="3" height="1" fill="#c0c0c0"/>
<rect x="220" y="735" width="3" height="1" fill="#c0c0c0"/>
<rect x="226" y="735" width="3" height="1" fill="#c0c0c0"/>
<rect x="232" y="735" width="3" height="1" fill="#c0c0c0"/>
<rect x="238" y="735" width="3" height="1" fill="#c0c0c0"/>
<rect x="244" y="735" width="3" height="1" fill="#c0c0c0"/>
<rect x="250" y="735" width="3" height="1" fill="#c0c0c0"/>
<rect x="256" y="735" width="3" height="1" fill="#c0c0c0"/>
<rect x="262" y="735" width="3" height="1" fill="#c0c0c0"/>
<rect x="268" y="735" width="3" height="1" fill="#c0c0c0"/>
<rect x="274" y="735" width="3" height="1" fill="#c0c0c0"/>
<rect x="280" y="735" width="3" height="1" fill="#c0c0c0"/>
<rect x="286" y="735" width="3" height="1" fill="#c0c0c0"/>
<rect x="292" y="735" width="3" height="1" fill="#c0c0c0"/>
<rect x="298" y="735" width="3" height="1" fill="#c0c0c0"/>
<rect x="304" y="735" width="3" height="1" fill="#c0c0c0"/>
<rect x="310" y="735" width="3" height="1" fill="#c0c0c0"/>
<rect x="316" y="735" width="3" height="1" fill="#c0c0c0"/>
<rect x="322" y="735" width="3" height="1" fill="#c0c0c0"/>
<rect x="328" y="735" width="3" height="1" fill="#c0c0c0"/>
<rect x="334" y="735" width="3" height="1" fill="#c0c0c0"/>
<rect x="340" y="735" width="3" height="1" fill="#c0c0c0"/>
<rect x="346" y="735" width="3" height="1" fill="#c0c0c0"/>
<rect x="352" y="735" width="3" height="1" fill="#c0c0c0"/>
<rect x="358" y="735" width="3" height="1" fill="#c0c0c0"/>
<rect x="364" y="735" width="3" height="1" fill="#c0c0c0"/>
<rect x="370" y="735" width="3" height="1" fill="#c0c0c0"/>
<rect x="376" y="735" width="3" height="1" fill="#c0c0c0"/>
<rect x="382" y="735" width="3" height="1" fill="#c0c0c0"/>
<rect x="388" y="735" width="3" height="1" fill="#c0c0c0"/>
<rect x="394" y="735" width="3" height="1" fill="#c0c0c0"/>
<rect x="400" y="735" width="3" height="1" fill="#c0c0c0"/>
<rect x="406" y="735" width="3" height="1" fill="#c0c0c0"/>
<rect x="412" y="735" width="3" height="1" fill="#c0c0c0"/>
<rect x="418" y="735" width="3" height="1" fill="#c0c0c0"/>
<rect x="424" y="735" width="3" height="1" fill="#c0c0c0"/>
<rect x="430" y="735" width="3" height="1" fill="#c0c0c0"/>
<rect x="436" y="735" width="3" height="1" fill="#c0c0c0"/>
<rect x="442" y="735" width="3" height="1" fill="#c0c0c0"/>
<rect x="448" y="735" width="3" height="1" fill="#c0c0c0"/>
<rect x="454" y="735" width="3" height="1" fill="#c0c0c0"/>
<rect x="460" y="735" width="3" height="1" fill="#c0c0c0"/>
<rect x="466" y="735" width="3" height="1" fill="#c0c0c0"/>
<rect x="472" y="735" width="3" height="1" fill="#c0c0c0"/>
<rect x="478" y="735" width="3" height="1" fill="#c0c0c0"/>
<rect x="484" y="735" width="3" height="1" fill="#c0c0c0"/>
<rect x="490" y="735" width="3" height="1" fill="#c0c0c0"/>
<rect x="496" y="735" width="3" height="1" fill="#c0c0c0"/>
<rect x="502" y="735" width="3" height="1" fill="#c0c0c0"/>
<rect x="508" y="735" width="3" height="1" fill="#c0c0c0"/>
<rect x="514" y="735" width="3" height="1" fill="#c0c0c0"/>
<rect x="520" y="735" width="3" height="1" fill="#c0c0c0"/>
<rect x="526" y="735" width="3" height="1" fill="#c0c0c0"/>
<rect x="532" y="735" width="3" height="1" fill="#c0c0c0"/>
<rect x="538" y="735" width="3" height="1" fill="#c0c0c0"/>
<rect x="544" y="735" width="3" height="1" fill="#c0c0c0"/>
<rect x="550" y="735" width="3" height="1" fill="#c0c0c0"/>
<rect x="556" y="735" width="3" height="1" fill="#c0c0c0"/>
<rect x="562" y="735" width="3" height="1" fill="#c0c0c0"/>
<rect x="568" y="735" width="3" height="1" fill="#c0c0c0"/>
<rect x="574" y="735" width="3" height="1" fill="#c0c0c0"/>
<rect x="580" y="735" width="3" height="1" fill="#c0c0c0"/>
<rect x="586" y="735" width="3" height="1" fill="#c0c0c0"/>
<rect x="592" y="735" width="3" height="1" fill="#c0c0c0"/>
<rect x="598" y="735" width="3" height="1" fill="#c0c0c0"/>
<rect x="604" y="735" width="3" height="1" fill="#c0c0c0"/>
<rect x="610" y="735" width="3" height="1" fill="#c0c0c0"/>
<rect x="616" y="735" width="3" height="1" fill="#c0c0c0"/>
<rect x="622" y="735" width="3" height="1" fill="#c0c0c0"/>
<rect x="628" y="735" width="3" height="1" fill="#c0c0c0"/>
<rect x="634" y="735" width="3" height="1" fill="#c0c0c0"/>
<rect x="640" y="735" width="3" height="1" fill="#c0c0c0"/>
<rect x="646" y="735" width="3" height="1" fill="#c0c0c0"/>
<rect x="652" y="735" width="3" height="1" fill="#c0c0c0"/>
<rect x="658" y="735" width="3" height="1" fill="#c0c0c0"/>
<rect x="664" y="735" width="3" height="1" fill="#c0c0c0"/>
<rect x="670" y="735" width="3" height="1" fill="#c0c0c0"/>
<rect x="676" y="735" width="3" height="1" fill="#c0c0c0"/>
<rect x="682" y="735" width="3" height="1" fill="#c0c0c0"/>
<rect x="688" y="735" width="3" height="1" fill="#c0c0c0"/>
<rect x="694" y="735" width="3" height="1" fill="#c0c0c0"/>
<rect x="700" y="735" width="3" height="1" fill="#c0c0c0"/>
<rect x="706" y="735" width="3" height="1" fill="#c0c0c0"/>
<rect x="712" y="735" width="3" height="1" fill="#c0c0c0"/>
<rect x="718" y="735" width="3" height="1" fill="#c0c0c0"/>
<rect x="724" y="735" width="3" height="1" fill="#c0c0c0"/>
<rect x="730" y="735" width="3" height="1" fill="#c0c0c0"/>
<rect x="736" y="735" width="3" height="1" fill="#c0c0c0"/>
<rect x="742" y="735" width="3" height="1" fill="#c0c0c0"/>
<rect x="748" y="735" width="3" height="1" fill="#c0c0c0"/>
<rect x="754" y="735" width="3" height="1" fill="#c0c0c0"/>
<rect x="760" y="735" width="3" height="1" fill="#c0c0c0"/>
<rect x="766" y="735" width="3" height="1" fill="#c0c0c0"/>
<rect x="772" y="735" width="3" height="1" fill="#c0c0c0"/>
<rect x="778" y="735" width="3" height="1" fill="#c0c0c0"/>
<rect x="784" y="735" width="3" height="1" fill="#c0c0c0"/>
<rect x="790" y="735" width="3" height="1" fill="#c0c0c0"/>
<rect x="796" y="735" width="3" height="1" fill="#c0c0c0"/>
<rect x="802" y="735" width="3" height="1" fill="#c0c0c0"/>
<rect x="808" y="735" width="3" height="1" fill="#c0c0c0"/>
<rect x="814" y="735" width="3" height="1" fill="#c0c0c0"/>
<rect x="820" y="735" width="3" height="1" fill="#c0c0c0"/>
<rect x="826" y="735" width="3" height="1" fill="#c0c0c0"/>
<rect x="832" y="735" width="3" height="1" fill="#c0c0c0"/>
<rect x="838" y="735" width="3" height="1" fill="#c0c0c0"/>
<rect x="844" y="735" width="3" height="1" fill="#c0c0c0"/>
<rect x="850" y="735" width="3" height="1" fill="#c0c0c0"/>
<rect x="856" y="735" width="3" height="1" fill="#c0c0c0"/>
<rect x="862" y="735" width="3" height="1" fill="#c0c0c0"/>
<rect x="868" y="735" width="3" height="1" fill="#c0c0c0"/>
<rect x="874" y="735" width="3" height="1" fill="#c0c0c0"/>
<rect x="880" y="735" width="3" height="1" fill="#c0c0c0"/>
<rect x="886" y="735" width="3" height="1" fill="#c0c0c0"/>
<rect x="892" y="735" width="3" height="1" fill="#c0c0c0"/>
<rect x="898" y="735" width="3" height="1" fill="#c0c0c0"/>
<rect x="904" y="735" width="3" height="1" fill="#c0c0c0"/>
<rect x="910" y="735" width="3" height="1" fill="#c0c0c0"/>
<rect x="916" y="735" width="3" height="1" fill="#c0c0c0"/>
<rect x="922" y="735" width="3" height="1" fill="#c0c0c0"/>
<rect x="928" y="735" width="3" height="1" fill="#c0c0c0"/>
<rect x="934" y="735" width="3" height="1" fill="#c0c0c0"/>
<rect x="940" y="735" width="3" height="1" fill="#c0c0c0"/>
<rect x="946" y="735" width="3" height="1" fill="#c0c0c0"/>
<rect x="952" y="735" width="3" height="1" fill="#c0c0c0"/>
<rect x="958" y="735" width="3" height="1" fill="#c0c0c0"/>
<rect x="964" y="735" width="3" height="1" fill="#c0c0c0"/>
<rect x="970" y="735" width="3" height="1" fill="#c0c0c0"/>
<rect x="976" y="735" width="3" height="1" fill="#c0c0c0"/>
<rect x="982" y="735" width="3" height="1" fill="#c0c0c0"/>
<rect x="988" y="735" width="3" height="1" fill="#c0c0c0"/>
<rect x="994" y="735" width="3" height="1" fill="#c0c0c0"/>
<rect x="1000" y="735" width="3" height="1" fill="#c0c0c0"/>
<rect x="1006" y="735" width="3" height="1" fill="#c0c0c0"/>
<rect x="1012" y="735" width="3" height="1" fill="#c0c0c0"/>
<rect x="1018" y="735" width="3" height="1" fill="#c0c0c0"/>
<rect x="1024" y="735" width="3" height="1" fill="#c0c0c0"/>
<rect x="1030" y="735" width="3" height="1" fill="#c0c0c0"/>
<rect x="1036" y="735" width="3" height="1" fill="#c0c0c0"/>
<rect x="1042" y="735" width="3" height="1" fill="#c0c0c0"/>
<rect x="1048" y="735" width="3" height="1" fill="#c0c0c0"/>
<rect x="1054" y="735" width="3" height="1" fill="#c0c0c0"/>
<rect x="1060" y="735" width="3" height="1" fill="#c0c0c0"/>
<rect x="1066" y="735" width="3" height="1" fill="#c0c0c0"/>
<rect x="1072" y="735" width="3" height="1" fill="#c0c0c0"/>
<rect x="1078" y="735" width="3" height="1" fill="#c0c0c0"/>
<rect x="1084" y="735" width="3" height="1" fill="#c0c0c0"/>
<rect x="1090" y="735" width="3" height="1" fill="#c0c0c0"/>
<rect x="1096" y="735" width="3" height="1" fill="#c0c0c0"/>
<rect x="1102" y="735" width="3" height="1" fill="#c0c0c0"/>
<rect x="1108" y="735" width="3" height="1" fill="#c0c0c0"/>
<rect x="1114" y="735" width="3" height="1" fill="#c0c0c0"/>
<rect x="1120" y="735" width="3" height="1" fill="#c0c0c0"/>
<rect x="1126" y="735" width="3" height="1" fill="#c0c0c0"/>
<rect x="1132" y="735" width="3" height="1" fill="#c0c0c0"/>
<rect x="1138" y="735" width="3" height="1" fill="#c0c0c0"/>
<rect x="1144" y="735" width="3" height="1" fill="#c0c0c0"/>
<rect x="1150" y="735" width="3" height="1" fill="#c0c0c0"/>
<rect x="1156" y="735" width="3" height="1" fill="#c0c0c0"/>
<rect x="1162" y="735" width="3" height="1" fill="#c0c0c0"/>
<rect x="1168" y="735" width="3" height="1" fill="#c0c0c0"/>
<rect x="1174" y="735" width="3" height="1" fill="#c0c0c0"/>
<rect x="1180" y="735" width="3" height="1" fill="#c0c0c0"/>
<rect x="1186" y="735" width="3" height="1" fill="#c0c0c0"/>
<rect x="1192" y="735" width="3" height="1" fill="#c0c0c0"/>
<rect x="1198" y="735" width="3" height="1" fill="#c0c0c0"/>
<rect x="1204" y="735" width="3" height="1" fill="#c0c0c0"/>
<rect x="1210" y="735" width="3" height="1" fill="#c0c0c0"/>
<rect x="1216" y="735" width="3" height="1" fill="#c0c0c0"/>
<rect x="1222" y="735" width="3" height="1" fill="#c0c0c0"/>
<rect x="1228" y="735" width="3" height="1" fill="#c0c0c0"/>
<rect x="1234" y="735" width="3" height="1" fill="#c0c0c0"/>
<rect x="1240" y="735" width="3" height="1" fill="#c0c0c0"/>
<rect x="1246" y="735" width="3" height="1" fill="#c0c0c0"/>
<rect x="1252" y="735" width="3" height="1" fill="#c0c0c0"/>
<rect x="1258" y="735" width="3" height="1" fill="#c0c0c0"/>
<rect x="1264" y="735" width="3" height="1" fill="#c0c0c0"/>
<rect x="1270" y="735" width="3" height="1" fill="#c0c0c0"/>
<rect x="1276" y="735" width="3" height="1" fill="#c0c0c0"/>
<rect x="1282" y="735" width="3" height="1" fill="#c0c0c0"/>
<rect x="1288" y="735" width="3" height="1" fill="#c0c0c0"/>
<rect x="1294" y="735" width="3" height="1" fill="#c0c0c0"/>
<rect x="1300" y="735" width="3" height="1" fill="#c0c0c0"/>
<rect x="1306" y="735" width="3" height="1" fill="#c0c0c0"/>
<rect x="1312" y="735" width="3" height="1" fill="#c0c0c0"/>
<rect x="1318" y="735" width="3" height="1" fill="#c0c0c0"/>
<rect x="1324" y="735" width="3" height="1" fill="#c0c0c0"/>
<rect x="1330" y="735" width="3" height="1" fill="#c0c0c0"/>
<rect x="1336" y="735" width="3" height="1" fill="#c0c0c0"/>
<rect x="1342" y="735" width="3" height="1" fill="#c0c0c0"/>
<rect x="1348" y="735" width="3" height="1" fill="#c0c0c0"/>
<rect x="1354" y="735" width="3" height="1" fill="#c0c0c0"/>
<rect x="1360" y="735" width="3" height="1" fill="#c0c0c0"/>
<rect x="1366" y="735" width="3" height="1" fill="#c0c0c0"/>
<rect x="1372" y="735" width="3" height="1" fill="#c0c0c0"/>
<rect x="1378" y="735" width="3" height="1" fill="#c0c0c0"/>
<rect x="1384" y="735" width="3" height="1" fill="#c0c0c0"/>
<rect x="1390" y="735" width="3" height="1" fill="#c0c0c0"/>
<rect x="1396" y="735" width="3" height="1" fill="#c0c0c0"/>
<rect x="1402" y="735" width="3" height="1" fill="#c0c0c0"/>
<rect x="1408" y="735" width="3" height="1" fill="#c0c0c0"/>
<rect x="1414" y="735" width="3" height="1" fill="#c0c0c0"/>
<rect x="1420" y="735" width="3" height="1" fill="#c0c0c0"/>
<rect x="1426" y="735" width="3" height="1" fill="#c0c0c0"/>
<rect x="1432" y="735" width="3" height="1" fill="#c0c0c0"/>
<rect x="1438" y="735" width="3" height="1" fill="#c0c0c0"/>
<rect x="1444" y="735" width="3" height="1" fill="#c0c0c0"/>
<rect x="1450" y="735" width="3" height="1" fill="#c0c0c0"/>
<rect x="1456" y="735" width="3" height="1" fill="#c0c0c0"/>
<rect x="1462" y="735" width="3" height="1" fill="#c0c0c0"/>
<rect x="1468" y="735" width="3" height="1" fill="#c0c0c0"/>
<rect x="1474" y="735" width="3" height="1" fill="#c0c0c0"/>
<rect x="1480" y="735" width="3" height="1" fill="#c0c0c0"/>
<rect x="1486" y="735" width="3" height="1" fill="#c0c0c0"/>
<rect x="1492" y="735" width="3" height="1" fill="#c0c0c0"/>
<rect x="1498" y="735" width="3" height="1" fill="#c0c0c0"/>
<rect x="1504" y="735" width="3" height="1" fill="#c0c0c0"/>
<rect x="1510" y="735" width="3" height="1" fill="#c0c0c0"/>
<rect x="1516" y="735" width="3" height="1" fill="#c0c0c0"/>
<rect x="1522" y="735" width="3" height="1" fill="#c0c0c0"/>
<rect x="1528" y="735" width="3" height="1" fill="#c0c0c0"/>
<rect x="1534" y="735" width="3" height="1" fill="#c0c0c0"/>
<rect x="1540" y="735" width="3" height="1" fill="#c0c0c0"/>
<rect x="1546" y="735" width="3" height="1" fill="#c0c0c0"/>
<rect x="1552" y="735" width="3" height="1" fill="#c0c0c0"/>
<rect x="1558" y="735" width="3" height="1" fill="#c0c0c0"/>
<rect x="1564" y="735" width="3" height="1" fill="#c0c0c0"/>
<rect x="1570" y="735" width="3" height="1" fill="#c0c0c0"/>
<rect x="1576" y="735" width="3" height="1" fill="#c0c0c0"/>
<rect x="1582" y="735" width="3" height="1" fill="#c0c0c0"/>
<rect x="1588" y="735" width="3" height="1" fill="#c0c0c0"/>
<rect x="1594" y="735" width="3" height="1" fill="#c0c0c0"/>
<rect x="1600" y="735" width="3" height="1" fill="#c0c0c0"/>
<rect x="1606" y="735" width="3" height="1" fill="#c0c0c0"/>
<rect x="1612" y="735" width="3" height="1" fill="#c0c0c0"/>
<rect x="1618" y="735" width="3" height="1" fill="#c0c0c0"/>
<rect x="1624" y="735" width="3" height="1" fill="#c0c0c0"/>
<rect x="1630" y="735" width="3" height="1" fill="#c0c0c0"/>
<rect x="1636" y="735" width="3" height="1" fill="#c0c0c0"/>
<rect x="1642" y="735" width="3" height="1" fill="#c0c0c0"/>
<rect x="1648" y="735" width="3" height="1" fill="#c0c0c0"/>
<rect x="1654" y="735" width="3" height="1" fill="#c0c0c0"/>
<rect x="1660" y="735" width="3" height="1" fill="#c0c0c0"/>
<rect x="1666" y="735" width="3" height="1" fill="#c0c0c0"/>
<rect x="1672" y="735" width="3" height="1" fill="#c0c0c0"/>
<rect x="1678" y="735" width="3" height="1" fill="#c0c0c0"/>
<polyline points="-3.5,692.5 5.5,689.5 13.5,687.5 21.5,687.5 29.5,693.5 37.5,688.5 45.5,697.5 53.5,693.5 61.5,693.5 69.5,700.5 77.5,698.5 85.5,701.5 93.5,698.5 101.5,694.5 109.5,688.5 117.5,687.5 125.5,685.5 133.5,683.5 141.5,683.5 149.5,677.5 157.5,675.5 165.5,672.5 173.5,683.5 181.5,685.5 189.5,687.5 197.5,695.5 205.5,691.5 213.5,693.5 221.5,692.5 229.5,694.5 237.5,682.5 245.5,691.5 253.5,705.5 261.5,703.5 269.5,702.5 277.5,698.5 285.5,703.5 293.5,702.5 301.5,699.5 309.5,699.5 317.5,700.5 325.5,700.5 333.5,705.5 341.5,705.5 349.5,701.5 357.5,700.5 365.5,702.5 373.5,703.5 381.5,700.5 389.5,694.5 397.5,694.5 405.5,692.5 413.5,698.5 421.5,696.5 429.5,699.5 437.5,695.5 445.5,698.5 453.5,701.5 461.5,694.5 469.5,698.5 477.5,694.5 485.5,692.5 493.5,690.5 501.5,681.5 509.5,681.5 517.5,680.5 525.5,676.5 533.5,683.5 541.5,679.5 549.5,676.5 557.5,676.5 565.5,672.5 573.5,673.5 581.5,670.5 589.5,667.5 597.5,665.5 605.5,676.5 613.5,673.5 621.5,687.5 629.5,685.5 637.5,686.5 645.5,692.5 653.5,689.5 661.5,692.5 669.5,689.5 677.5,694.5 685.5,689.5 693.5,686.5 701.5,682.5 709.5,683.5 717.5,683.5 725.5,680.5 733.5,681.5 741.5,684.5 749.5,683.5 757.5,683.5 765.5,710.5 773.5,714.5 781.5,705.5 789.5,702.5 797.5,697.5 805.5,696.5 813.5,704.5 821.5,698.5 829.5,699.5 837.5,700.5 845.5,696.5 853.5,695.5 861.5,696.5 869.5,694.5 877.5,692.5 885.5,696.5 893.5,705.5 901.5,699.5 909.5,699.5 917.5,698.5 925.5,705.5 933.5,704.5 941.5,713.5 949.5,715.5 957.5,726.5 965.5,729.5 973.5,723.5 981.5,710.5 989.5,707.5 997.5,704.5 1005.5,704.5 1013.5,709.5 1021.5,714.5 1029.5,711.5 1037.5,705.5 1045.5,692.5 1053.5,691.5 1061.5,691.5 1069.5,690.5 1077.5,690.5 1085.5,690.5 1093.5,700.5 1101.5,692.5 1109.5,694.5 1117.5,692.5 1125.5,691.5 1133.5,687.5 1141.5,688.5 1149.5,683.5 1157.5,681.5 1165.5,679.5 1173.5,678.5 1181.5,701.5 1189.5,698.5 1197.5,695.5 1205.5,694.5 1213.5,700.5 1221.5,699.5 1229.5,695.5 1237.5,699.5 1245.5,695.5 1253.5,694.5 1261.5,692.5 1269.5,686.5 1277.5,683.5 1285.5,679.5 1293.5,678.5 1301.5,681.5 1309.5,674.5 1317.5,681.5 1325.5,680.5 1333.5,692.5 1341.5,705.5 1349.5,705.5 1357.5,701.5 1365.5,702.5 1373.5,711.5 1381.5,706.5 1389.5,709.5 1397.5,701.5 1405.5,707.5 1413.5,708.5 1421.5,709.5 1429.5,709.5 1437.5,701.5 1445.5,698.5 1453.5,703.5 1461.5,707.5 1469.5,711.5 1477.5,715.5 1485.5,727.5 1493.5,730.5 1501.5,733.5 1509.5,733.5 1517.5,732.5 1525.5,718.5 1533.5,721.5 1541.5,720.5 1549.5,718.5 1557.5,727.5 1565.5,730.5 1573.5,733.5 1581.5,723.5 1589.5,715.5 1597.5,706.5 1605.5,705.5 1613.5,707.5 1621.5,703.5 1629.5,699.5 1637.5,704.5 1645.5,697.5 1653.5,703.5 1661.5,701.5" fill="none" stroke="#1e90ff" stroke-width="1"/>
</svg>
<text class="t" transform="translate(1 658) scale(0.97 1)">RSI(14) 56.4798</text>
<text class="t" transform="translate(1686 656) scale(0.97 1)">100</text>
<text class="t" transform="translate(1685 688) scale(0.97 1)">70</text>
<text class="t" transform="translate(1685 739) scale(0.97 1)">30</text>
<text class="t" transform="translate(1686 770) scale(0.97 1)">0</text>
<text class="t" transform="translate(-5 786) scale(0.97 1)">30 Apr 2020</text>
<rect x="61" y="774" width="1" height="3" fill="#000"/>
<text class="t" transform="translate(60.5 786) scale(0.97 1)">1 May 20:00</text>
<rect x="125" y="774" width="1" height="3" fill="#000"/>
<text class="t" transform="translate(124.5 786) scale(0.97 1)">5 May 00:00</text>
<rect x="189" y="774" width="1" height="3" fill="#000"/>
<text class="t" transform="translate(188.5 786) scale(0.97 1)">6 May 08:00</text>
<rect x="253" y="774" width="1" height="3" fill="#000"/>
<text class="t" transform="translate(252.5 786) scale(0.97 1)">7 May 16:00</text>
<rect x="317" y="774" width="1" height="3" fill="#000"/>
<text class="t" transform="translate(316.5 786) scale(0.97 1)">10 May 23:00</text>
<rect x="381" y="774" width="1" height="3" fill="#000"/>
<text class="t" transform="translate(380.5 786) scale(0.97 1)">12 May 04:00</text>
<rect x="445" y="774" width="1" height="3" fill="#000"/>
<text class="t" transform="translate(444.5 786) scale(0.97 1)">13 May 12:00</text>
<rect x="509" y="774" width="1" height="3" fill="#000"/>
<text class="t" transform="translate(508.5 786) scale(0.97 1)">14 May 20:00</text>
<rect x="573" y="774" width="1" height="3" fill="#000"/>
<text class="t" transform="translate(572.5 786) scale(0.97 1)">18 May 00:00</text>
<rect x="637" y="774" width="1" height="3" fill="#000"/>
<text class="t" transform="translate(636.5 786) scale(0.97 1)">19 May 08:00</text>
<rect x="701" y="774" width="1" height="3" fill="#000"/>
<text class="t" transform="translate(700.5 786) scale(0.97 1)">20 May 16:00</text>
<rect x="765" y="774" width="1" height="3" fill="#000"/>
<text class="t" transform="translate(764.5 786) scale(0.97 1)">22 May 00:00</text>
<rect x="829" y="774" width="1" height="3" fill="#000"/>
<text class="t" transform="translate(828.5 786) scale(0.97 1)">25 May 04:00</text>
<rect x="893" y="774" width="1" height="3" fill="#000"/>
<text class="t" transform="translate(892.5 786) scale(0.97 1)">26 May 12:00</text>
<rect x="957" y="774" width="1" height="3" fill="#000"/>
<text class="t" transform="translate(956.5 786) scale(0.97 1)">27 May 20:00</text>
<rect x="1021" y="774" width="1" height="3" fill="#000"/>
<text class="t" transform="translate(1020.5 786) scale(0.97 1)">29 May 04:00</text>
<rect x="1085" y="774" width="1" height="3" fill="#000"/>
<text class="t" transform="translate(1084.5 786) scale(0.93 1)">1 Jun 08:00</text>
<rect x="1149" y="774" width="1" height="3" fill="#000"/>
<text class="t" transform="translate(1148.5 786) scale(0.93 1)">2 Jun 16:00</text>
<rect x="1213" y="774" width="1" height="3" fill="#000"/>
<text class="t" transform="translate(1212.5 786) scale(0.93 1)">4 Jun 00:00</text>
<rect x="1277" y="774" width="1" height="3" fill="#000"/>
<text class="t" transform="translate(1276.5 786) scale(0.93 1)">5 Jun 08:00</text>
<rect x="1341" y="774" width="1" height="3" fill="#000"/>
<text class="t" transform="translate(1340.5 786) scale(0.93 1)">8 Jun 12:00</text>
<rect x="1405" y="774" width="1" height="3" fill="#000"/>
<text class="t" transform="translate(1404.5 786) scale(0.93 1)">9 Jun 20:00</text>
<rect x="1469" y="774" width="1" height="3" fill="#000"/>
<text class="t" transform="translate(1468.5 786) scale(0.93 1)">11 Jun 04:00</text>
<rect x="1533" y="774" width="1" height="3" fill="#000"/>
<text class="t" transform="translate(1532.5 786) scale(0.93 1)">12 Jun 12:00</text>
<rect x="1597" y="774" width="1" height="3" fill="#000"/>
<text class="t" transform="translate(1596.5 786) scale(0.93 1)">15 Jun 16:00</text>
<rect x="1661" y="774" width="1" height="3" fill="#000"/>
<text class="t" transform="translate(1660.5 786) scale(0.93 1)">16 Jun 22:00</text>
<rect x="0" y="794" width="1715" height="1" fill="#e3e3e3"/>
<rect x="0" y="795" width="1715" height="1" fill="#ffffff"/>
</svg>
<div class="cn">多空转折点</div><div class="cn2">38</div>
</body></html>
